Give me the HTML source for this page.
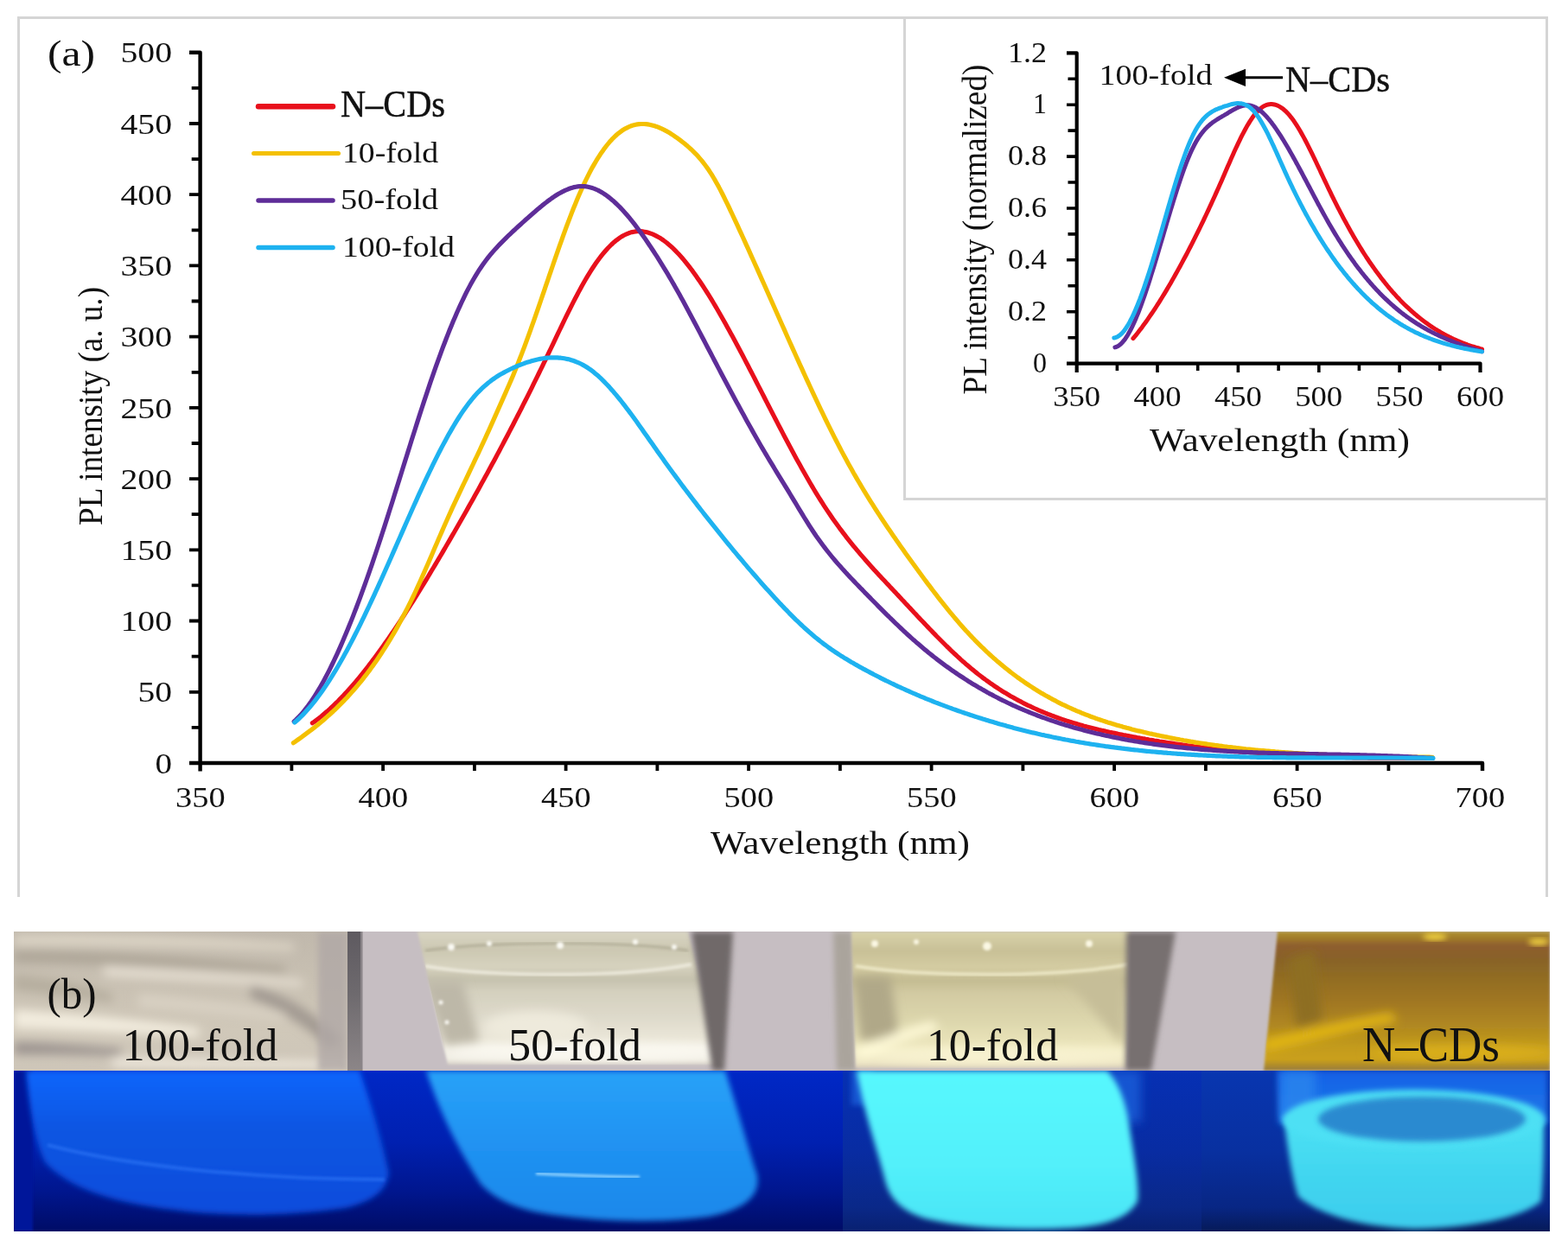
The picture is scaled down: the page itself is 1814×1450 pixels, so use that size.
<!DOCTYPE html><html><head><meta charset="utf-8"><title>PL spectra</title><style>
html,body{margin:0;padding:0;background:#fff;overflow:hidden}
svg{display:block}
text{font-family:"Liberation Serif","Times New Roman",serif;fill:#111}
</style></head><body>
<svg width="1814" height="1450" viewBox="0 0 1814 1450">
<rect width="1814" height="1450" fill="#fff"/>
<path d="M21.5 1038V20.5H1789.5V1038" fill="none" stroke="#d5d5d5" stroke-width="3"/>
<path d="M1046.5 20.5V577.5H1789.5" fill="none" stroke="#d5d5d5" stroke-width="3"/>
<path d="M219 60.8H231.6V892.5M219 883.0H1715V892" fill="none" stroke="#000" stroke-width="4.4" stroke-linejoin="round"/>
<path d="M219 800.8H231.6M219 718.5H231.6M219 636.3H231.6M219 554.1H231.6M219 471.9H231.6M219 389.6H231.6M219 307.4H231.6M219 225.2H231.6M219 143.0H231.6M221.7 841.9H231.6M221.7 759.7H231.6M221.7 677.4H231.6M221.7 595.2H231.6M221.7 513.0H231.6M221.7 430.8H231.6M221.7 348.5H231.6M221.7 266.3H231.6M221.7 184.1H231.6M221.7 101.9H231.6M337.4 883.0V892M443.1 883.0V892M548.9 883.0V892M654.6 883.0V892M760.4 883.0V892M866.1 883.0V892M971.9 883.0V892M1077.6 883.0V892M1183.4 883.0V892M1289.1 883.0V892M1394.9 883.0V892M1500.6 883.0V892M1606.4 883.0V892" fill="none" stroke="#000" stroke-width="3.8"/>
<path d="M1234 61.3H1245.7V431M1234 420.6H1712.5V431" fill="none" stroke="#000" stroke-width="4.2" stroke-linejoin="round"/>
<path d="M1235.5 390.7H1245.7M1234.0 360.7H1245.7M1235.5 330.8H1245.7M1234.0 300.8H1245.7M1235.5 270.9H1245.7M1234.0 241.0H1245.7M1235.5 211.0H1245.7M1234.0 181.1H1245.7M1235.5 151.1H1245.7M1234.0 121.2H1245.7M1235.5 91.3H1245.7M1292.4 420.6V429M1339.0 420.6V431M1385.7 420.6V429M1432.4 420.6V431M1479.1 420.6V429M1525.8 420.6V431M1572.4 420.6V429M1619.1 420.6V431M1665.8 420.6V429" fill="none" stroke="#000" stroke-width="3.6"/>
<g fill="none" stroke-width="5.2" stroke-linecap="round" stroke-linejoin="round">
<path stroke="#e8101c" d="M361.4 836.7L363.4 835.3L365.4 833.8L367.4 832.3L369.4 830.8L371.4 829.2L373.4 827.5L375.4 825.8L377.4 824.1L379.4 822.4L381.4 820.6L383.4 818.7L385.4 816.8L387.4 814.9L389.4 813.0L391.4 811.0L393.4 808.9L395.4 806.9L397.4 804.8L399.4 802.6L401.4 800.4L403.4 798.2L405.4 796.0L407.4 793.7L409.4 791.4L411.4 789.1L413.4 786.7L415.4 784.3L417.4 781.8L419.4 779.4L421.4 776.9L423.4 774.3L425.4 771.8L427.4 769.2L429.4 766.6L431.4 763.9L433.4 761.2L435.4 758.5L437.4 755.8L439.4 753.1L441.4 750.3L443.4 747.5L445.4 744.6L447.4 741.8L449.4 738.9L451.4 736.0L453.4 733.1L455.4 730.1L457.4 727.1L459.4 724.1L461.4 721.1L463.4 718.1L465.4 715.0L467.4 712.0L469.4 708.9L471.4 705.7L473.4 702.6L475.4 699.4L477.4 696.3L479.4 693.1L481.4 689.9L483.4 686.7L485.4 683.4L487.4 680.2L489.4 676.9L491.4 673.6L493.4 670.3L495.4 667.0L497.4 663.7L499.4 660.3L501.4 657.0L503.4 653.6L505.4 650.2L507.4 646.9L509.4 643.5L511.4 640.1L513.4 636.6L515.4 633.2L517.4 629.8L519.4 626.4L521.4 622.9L523.4 619.4L525.4 616.0L527.4 612.5L529.4 609.0L531.4 605.5L533.4 602.0L535.4 598.5L537.4 595.0L539.4 591.4L541.4 587.9L543.4 584.3L545.4 580.8L547.4 577.2L549.4 573.6L551.4 570.0L553.4 566.4L555.4 562.8L557.4 559.1L559.4 555.5L561.4 551.8L563.4 548.2L565.4 544.5L567.4 540.8L569.4 537.1L571.4 533.4L573.4 529.7L575.4 525.9L577.4 522.2L579.4 518.4L581.4 514.6L583.4 510.8L585.4 507.0L587.4 503.2L589.4 499.4L591.4 495.5L593.4 491.7L595.4 487.8L597.4 483.9L599.4 480.0L601.4 476.1L603.4 472.2L605.4 468.2L607.4 464.3L609.4 460.3L611.4 456.3L613.4 452.3L615.4 448.3L617.4 444.2L619.4 440.2L621.4 436.1L623.4 432.0L625.4 427.9L627.4 423.8L629.4 419.7L631.4 415.6L633.4 411.4L635.4 407.2L637.4 403.0L639.4 398.8L641.4 394.6L643.4 390.4L645.4 386.2L647.4 382.0L649.4 377.8L651.4 373.7L653.4 369.5L655.4 365.4L657.4 361.4L659.4 357.3L661.4 353.3L663.4 349.4L665.4 345.5L667.4 341.7L669.4 337.9L671.4 334.2L673.4 330.5L675.4 327.0L677.4 323.5L679.4 320.1L681.4 316.8L683.4 313.6L685.4 310.5L687.4 307.5L689.4 304.6L691.4 301.8L693.4 299.0L695.4 296.4L697.4 293.9L699.4 291.5L701.4 289.2L703.4 287.0L705.4 285.0L707.4 283.0L709.4 281.1L711.4 279.4L713.4 277.8L715.4 276.3L717.4 274.9L719.4 273.6L721.4 272.5L723.4 271.5L725.4 270.6L727.4 269.8L729.4 269.1L731.4 268.6L733.4 268.2L735.4 267.9L737.4 267.7L739.4 267.7L741.4 267.7L743.4 267.9L745.4 268.2L747.4 268.6L749.4 269.1L751.4 269.7L753.4 270.4L755.4 271.2L757.4 272.1L759.4 273.1L761.4 274.2L763.4 275.3L765.4 276.6L767.4 278.0L769.4 279.5L771.4 281.0L773.4 282.7L775.4 284.4L777.4 286.2L779.4 288.1L781.4 290.1L783.4 292.2L785.4 294.3L787.4 296.5L789.4 298.8L791.4 301.1L793.4 303.6L795.4 306.1L797.4 308.6L799.4 311.3L801.4 313.9L803.4 316.7L805.4 319.5L807.4 322.4L809.4 325.3L811.4 328.3L813.4 331.3L815.4 334.4L817.4 337.5L819.4 340.7L821.4 343.9L823.4 347.2L825.4 350.5L827.4 353.9L829.4 357.3L831.4 360.7L833.4 364.2L835.4 367.7L837.4 371.2L839.4 374.8L841.4 378.4L843.4 382.0L845.4 385.7L847.4 389.3L849.4 393.0L851.4 396.7L853.4 400.5L855.4 404.3L857.4 408.0L859.4 411.8L861.4 415.6L863.4 419.5L865.4 423.3L867.4 427.2L869.4 431.0L871.4 434.9L873.4 438.8L875.4 442.7L877.4 446.6L879.4 450.5L881.4 454.4L883.4 458.3L885.4 462.2L887.4 466.1L889.4 470.0L891.4 473.9L893.4 477.7L895.4 481.6L897.4 485.5L899.4 489.4L901.4 493.2L903.4 497.0L905.4 500.9L907.4 504.7L909.4 508.5L911.4 512.3L913.4 516.0L915.4 519.8L917.4 523.5L919.4 527.2L921.4 530.9L923.4 534.5L925.4 538.1L927.4 541.7L929.4 545.3L931.4 548.8L933.4 552.3L935.4 555.8L937.4 559.2L939.4 562.6L941.4 566.0L943.4 569.3L945.4 572.6L947.4 575.8L949.4 579.0L951.4 582.2L953.4 585.3L955.4 588.4L957.4 591.4L959.4 594.3L961.4 597.3L963.4 600.2L965.4 603.0L967.4 605.8L969.4 608.5L971.4 611.3L973.4 613.9L975.4 616.6L977.4 619.2L979.4 621.8L981.4 624.3L983.4 626.8L985.4 629.3L987.4 631.8L989.4 634.2L991.4 636.6L993.4 638.9L995.4 641.3L997.4 643.6L999.4 645.9L1001.4 648.2L1003.4 650.5L1005.4 652.7L1007.4 654.9L1009.4 657.2L1011.4 659.4L1013.4 661.6L1015.4 663.7L1017.4 665.9L1019.4 668.1L1021.4 670.2L1023.4 672.3L1025.4 674.5L1027.4 676.6L1029.4 678.8L1031.4 680.9L1033.4 683.0L1035.4 685.1L1037.4 687.3L1039.4 689.4L1041.4 691.5L1043.4 693.7L1045.4 695.8L1047.4 698.0L1049.4 700.1L1051.4 702.3L1053.4 704.4L1055.4 706.5L1057.4 708.7L1059.4 710.8L1061.4 713.0L1063.4 715.1L1065.4 717.2L1067.4 719.3L1069.4 721.4L1071.4 723.5L1073.4 725.6L1075.4 727.7L1077.4 729.8L1079.4 731.9L1081.4 733.9L1083.4 736.0L1085.4 738.0L1087.4 740.0L1089.4 742.0L1091.4 744.0L1093.4 746.0L1095.4 748.0L1097.4 749.9L1099.4 751.9L1101.4 753.8L1103.4 755.7L1105.4 757.5L1107.4 759.4L1109.4 761.2L1111.4 763.1L1113.4 764.9L1115.4 766.6L1117.4 768.4L1119.4 770.1L1121.4 771.8L1123.4 773.5L1125.4 775.1L1127.4 776.8L1129.4 778.4L1131.4 780.0L1133.4 781.5L1135.4 783.0L1137.4 784.6L1139.4 786.0L1141.4 787.5L1143.4 788.9L1145.4 790.4L1147.4 791.7L1149.4 793.1L1151.4 794.5L1153.4 795.8L1155.4 797.1L1157.4 798.4L1159.4 799.7L1161.4 800.9L1163.4 802.1L1165.4 803.3L1167.4 804.5L1169.4 805.7L1171.4 806.8L1173.4 807.9L1175.4 809.0L1177.4 810.1L1179.4 811.2L1181.4 812.2L1183.4 813.3L1185.4 814.3L1187.4 815.3L1189.4 816.3L1191.4 817.2L1193.4 818.2L1195.4 819.1L1197.4 820.0L1199.4 820.9L1201.4 821.8L1203.4 822.7L1205.4 823.5L1207.4 824.3L1209.4 825.2L1211.4 826.0L1213.4 826.8L1215.4 827.5L1217.4 828.3L1219.4 829.0L1221.4 829.8L1223.4 830.5L1225.4 831.2L1227.4 831.9L1229.4 832.6L1231.4 833.3L1233.4 833.9L1235.4 834.6L1237.4 835.2L1239.4 835.8L1241.4 836.4L1243.4 837.0L1245.4 837.6L1247.4 838.2L1249.4 838.8L1251.4 839.3L1253.4 839.9L1255.4 840.4L1257.4 841.0L1259.4 841.5L1261.4 842.0L1263.4 842.5L1265.4 843.0L1267.4 843.5L1269.4 844.0L1271.4 844.5L1273.4 844.9L1275.4 845.4L1277.4 845.8L1279.4 846.3L1281.4 846.7L1283.4 847.2L1285.4 847.6L1287.4 848.0L1289.4 848.4L1291.4 848.8L1293.4 849.3L1295.4 849.7L1297.4 850.1L1299.4 850.5L1301.4 850.8L1303.4 851.2L1305.4 851.6L1307.4 852.0L1309.4 852.4L1311.4 852.7L1313.4 853.1L1315.4 853.5L1317.4 853.8L1319.4 854.2L1321.4 854.6L1323.4 854.9L1325.4 855.3L1327.4 855.6L1329.4 856.0L1331.4 856.3L1333.4 856.6L1335.4 857.0L1337.4 857.3L1339.4 857.6L1341.4 858.0L1343.4 858.3L1345.4 858.6L1347.4 858.9L1349.4 859.2L1351.4 859.5L1353.4 859.8L1355.4 860.1L1357.4 860.4L1359.4 860.7L1361.4 861.0L1363.4 861.3L1365.4 861.6L1367.4 861.9L1369.4 862.2L1371.4 862.4L1373.4 862.7L1375.4 863.0L1377.4 863.2L1379.4 863.5L1381.4 863.8L1383.4 864.0L1385.4 864.3L1387.4 864.5L1389.4 864.8L1391.4 865.0L1393.4 865.3L1395.4 865.5L1397.4 865.8L1399.4 866.0L1401.4 866.2L1403.4 866.5L1405.4 866.7L1407.4 866.9L1409.4 867.1L1411.4 867.3L1413.4 867.6L1415.4 867.8L1417.4 868.0L1419.4 868.2L1421.4 868.4L1423.4 868.6L1425.4 868.8L1427.4 869.0L1429.4 869.2L1431.4 869.4L1433.4 869.6L1435.4 869.8L1437.4 869.9L1439.4 870.1L1441.4 870.3L1443.4 870.5L1445.4 870.6L1447.4 870.8L1449.4 871.0L1451.4 871.1L1453.4 871.3L1455.4 871.5L1457.4 871.6L1459.4 871.8L1461.4 871.9L1463.4 872.1L1465.4 872.2L1467.4 872.4L1469.4 872.5L1471.4 872.7L1473.4 872.8L1475.4 872.9L1477.4 873.1L1479.4 873.2L1481.4 873.3L1483.4 873.5L1485.4 873.6L1487.4 873.7L1489.4 873.8L1491.4 873.9L1493.4 874.1L1495.4 874.2L1497.4 874.3L1499.4 874.4L1501.4 874.5L1503.4 874.6L1505.4 874.7L1507.4 874.8L1509.4 874.9L1511.4 875.0L1513.4 875.1L1515.4 875.2L1517.4 875.3L1519.4 875.3L1521.4 875.4L1523.4 875.5L1525.4 875.6L1527.4 875.7L1529.4 875.7L1531.4 875.8L1533.4 875.9L1535.4 876.0L1537.4 876.0L1539.4 876.1L1541.4 876.2L1543.4 876.2L1545.4 876.3L1547.4 876.3L1549.4 876.4L1551.4 876.4L1553.4 876.5L1555.4 876.5L1557.4 876.6L1559.4 876.6L1561.4 876.7L1563.4 876.7L1565.4 876.8L1567.4 876.8L1569.4 876.8L1571.4 876.9L1573.4 876.9L1575.4 876.9L1577.4 877.0L1579.4 877.0L1581.4 877.0L1583.4 877.1L1585.4 877.1L1587.4 877.1L1589.4 877.1L1591.4 877.1L1593.4 877.2L1595.4 877.2L1597.4 877.2L1599.4 877.2L1601.4 877.2L1603.4 877.2L1605.4 877.2L1607.4 877.2L1609.4 877.2L1611.4 877.2L1613.4 877.2L1615.4 877.2L1617.4 877.2L1619.4 877.2L1621.4 877.2L1623.4 877.2L1625.4 877.2L1627.4 877.2L1629.4 877.2L1631.4 877.2L1633.4 877.2L1635.4 877.2L1637.4 877.1L1639.4 877.1L1641.4 877.1L1643.4 877.1L1645.4 877.1L1647.4 877.0L1649.4 877.0L1651.4 877.0L1653.4 877.0L1655.4 876.9L1657.0 876.9"/>
<path stroke="#f4c000" d="M339.4 859.7L341.4 858.3L343.4 856.9L345.4 855.5L347.4 854.1L349.4 852.7L351.4 851.2L353.4 849.7L355.4 848.2L357.4 846.7L359.4 845.2L361.4 843.6L363.4 842.1L365.4 840.5L367.4 838.9L369.4 837.2L371.4 835.6L373.4 833.9L375.4 832.2L377.4 830.4L379.4 828.6L381.4 826.9L383.4 825.0L385.4 823.2L387.4 821.3L389.4 819.4L391.4 817.4L393.4 815.4L395.4 813.4L397.4 811.4L399.4 809.3L401.4 807.2L403.4 805.0L405.4 802.8L407.4 800.6L409.4 798.3L411.4 796.0L413.4 793.6L415.4 791.2L417.4 788.8L419.4 786.3L421.4 783.7L423.4 781.2L425.4 778.5L427.4 775.9L429.4 773.1L431.4 770.4L433.4 767.6L435.4 764.7L437.4 761.8L439.4 758.8L441.4 755.8L443.4 752.7L445.4 749.6L447.4 746.4L449.4 743.1L451.4 739.9L453.4 736.5L455.4 733.1L457.4 729.6L459.4 726.1L461.4 722.5L463.4 718.8L465.4 715.1L467.4 711.3L469.4 707.5L471.4 703.6L473.4 699.6L475.4 695.6L477.4 691.5L479.4 687.3L481.4 683.0L483.4 678.7L485.4 674.3L487.4 669.9L489.4 665.4L491.4 660.9L493.4 656.3L495.4 651.7L497.4 647.1L499.4 642.4L501.4 637.8L503.4 633.1L505.4 628.5L507.4 623.8L509.4 619.2L511.4 614.6L513.4 610.0L515.4 605.5L517.4 601.0L519.4 596.5L521.4 592.1L523.4 587.7L525.4 583.4L527.4 579.1L529.4 574.8L531.4 570.6L533.4 566.4L535.4 562.2L537.4 558.0L539.4 553.8L541.4 549.6L543.4 545.4L545.4 541.2L547.4 537.0L549.4 532.7L551.4 528.5L553.4 524.3L555.4 520.0L557.4 515.7L559.4 511.4L561.4 507.1L563.4 502.7L565.4 498.3L567.4 493.9L569.4 489.4L571.4 484.9L573.4 480.4L575.4 475.9L577.4 471.4L579.4 466.9L581.4 462.4L583.4 457.9L585.4 453.4L587.4 448.8L589.4 444.2L591.4 439.6L593.4 434.9L595.4 430.0L597.4 425.1L599.4 420.1L601.4 415.0L603.4 409.9L605.4 404.6L607.4 399.3L609.4 393.8L611.4 388.4L613.4 382.8L615.4 377.2L617.4 371.6L619.4 365.9L621.4 360.1L623.4 354.3L625.4 348.5L627.4 342.7L629.4 336.8L631.4 330.9L633.4 325.1L635.4 319.2L637.4 313.3L639.4 307.5L641.4 301.7L643.4 295.9L645.4 290.1L647.4 284.4L649.4 278.8L651.4 273.2L653.4 267.7L655.4 262.2L657.4 256.9L659.4 251.6L661.4 246.4L663.4 241.3L665.4 236.4L667.4 231.5L669.4 226.8L671.4 222.2L673.4 217.7L675.4 213.4L677.4 209.1L679.4 205.1L681.4 201.1L683.4 197.3L685.4 193.6L687.4 190.1L689.4 186.7L691.4 183.4L693.4 180.3L695.4 177.2L697.4 174.4L699.4 171.6L701.4 169.0L703.4 166.5L705.4 164.1L707.4 161.9L709.4 159.8L711.4 157.9L713.4 156.0L715.4 154.3L717.4 152.8L719.4 151.3L721.4 150.0L723.4 148.8L725.4 147.8L727.4 146.9L729.4 146.0L731.4 145.3L733.4 144.8L735.4 144.3L737.4 143.9L739.4 143.7L741.4 143.5L743.4 143.5L745.4 143.5L747.4 143.7L749.4 143.9L751.4 144.3L753.4 144.7L755.4 145.2L757.4 145.8L759.4 146.4L761.4 147.2L763.4 148.0L765.4 148.9L767.4 149.8L769.4 150.9L771.4 151.9L773.4 153.1L775.4 154.3L777.4 155.6L779.4 156.9L781.4 158.3L783.4 159.7L785.4 161.1L787.4 162.6L789.4 164.2L791.4 165.8L793.4 167.4L795.4 169.1L797.4 170.9L799.4 172.7L801.4 174.6L803.4 176.6L805.4 178.6L807.4 180.8L809.4 183.1L811.4 185.4L813.4 187.9L815.4 190.5L817.4 193.2L819.4 196.1L821.4 199.1L823.4 202.2L825.4 205.5L827.4 208.9L829.4 212.5L831.4 216.1L833.4 219.9L835.4 223.8L837.4 227.7L839.4 231.8L841.4 235.9L843.4 240.0L845.4 244.3L847.4 248.5L849.4 252.8L851.4 257.1L853.4 261.4L855.4 265.8L857.4 270.1L859.4 274.5L861.4 278.9L863.4 283.3L865.4 287.7L867.4 292.1L869.4 296.6L871.4 301.0L873.4 305.5L875.4 309.9L877.4 314.4L879.4 318.9L881.4 323.3L883.4 327.8L885.4 332.3L887.4 336.8L889.4 341.3L891.4 345.8L893.4 350.3L895.4 354.8L897.4 359.3L899.4 363.8L901.4 368.3L903.4 372.8L905.4 377.3L907.4 381.7L909.4 386.2L911.4 390.7L913.4 395.2L915.4 399.6L917.4 404.1L919.4 408.5L921.4 413.0L923.4 417.4L925.4 421.8L927.4 426.2L929.4 430.6L931.4 435.0L933.4 439.4L935.4 443.7L937.4 448.0L939.4 452.3L941.4 456.6L943.4 460.9L945.4 465.1L947.4 469.4L949.4 473.6L951.4 477.7L953.4 481.9L955.4 486.0L957.4 490.1L959.4 494.1L961.4 498.2L963.4 502.2L965.4 506.1L967.4 510.0L969.4 513.9L971.4 517.8L973.4 521.6L975.4 525.4L977.4 529.1L979.4 532.8L981.4 536.4L983.4 540.0L985.4 543.6L987.4 547.2L989.4 550.6L991.4 554.1L993.4 557.5L995.4 560.9L997.4 564.3L999.4 567.6L1001.4 570.9L1003.4 574.1L1005.4 577.4L1007.4 580.6L1009.4 583.7L1011.4 586.9L1013.4 590.0L1015.4 593.1L1017.4 596.2L1019.4 599.2L1021.4 602.2L1023.4 605.2L1025.4 608.2L1027.4 611.2L1029.4 614.1L1031.4 617.0L1033.4 619.9L1035.4 622.8L1037.4 625.7L1039.4 628.6L1041.4 631.4L1043.4 634.2L1045.4 637.1L1047.4 639.9L1049.4 642.7L1051.4 645.5L1053.4 648.3L1055.4 651.0L1057.4 653.8L1059.4 656.6L1061.4 659.3L1063.4 662.1L1065.4 664.8L1067.4 667.5L1069.4 670.2L1071.4 672.9L1073.4 675.6L1075.4 678.2L1077.4 680.9L1079.4 683.5L1081.4 686.1L1083.4 688.7L1085.4 691.3L1087.4 693.9L1089.4 696.4L1091.4 698.9L1093.4 701.4L1095.4 703.9L1097.4 706.4L1099.4 708.8L1101.4 711.2L1103.4 713.6L1105.4 716.0L1107.4 718.3L1109.4 720.7L1111.4 722.9L1113.4 725.2L1115.4 727.4L1117.4 729.7L1119.4 731.8L1121.4 734.0L1123.4 736.1L1125.4 738.2L1127.4 740.3L1129.4 742.3L1131.4 744.3L1133.4 746.3L1135.4 748.3L1137.4 750.2L1139.4 752.2L1141.4 754.1L1143.4 755.9L1145.4 757.8L1147.4 759.6L1149.4 761.4L1151.4 763.1L1153.4 764.9L1155.4 766.6L1157.4 768.3L1159.4 769.9L1161.4 771.6L1163.4 773.2L1165.4 774.8L1167.4 776.4L1169.4 778.0L1171.4 779.5L1173.4 781.0L1175.4 782.5L1177.4 784.0L1179.4 785.4L1181.4 786.8L1183.4 788.2L1185.4 789.6L1187.4 791.0L1189.4 792.3L1191.4 793.6L1193.4 794.9L1195.4 796.2L1197.4 797.5L1199.4 798.7L1201.4 800.0L1203.4 801.2L1205.4 802.4L1207.4 803.5L1209.4 804.7L1211.4 805.8L1213.4 806.9L1215.4 808.0L1217.4 809.1L1219.4 810.2L1221.4 811.2L1223.4 812.3L1225.4 813.3L1227.4 814.3L1229.4 815.3L1231.4 816.2L1233.4 817.2L1235.4 818.1L1237.4 819.0L1239.4 819.9L1241.4 820.8L1243.4 821.7L1245.4 822.6L1247.4 823.4L1249.4 824.2L1251.4 825.1L1253.4 825.9L1255.4 826.7L1257.4 827.4L1259.4 828.2L1261.4 829.0L1263.4 829.7L1265.4 830.4L1267.4 831.2L1269.4 831.9L1271.4 832.6L1273.4 833.2L1275.4 833.9L1277.4 834.6L1279.4 835.2L1281.4 835.9L1283.4 836.5L1285.4 837.1L1287.4 837.7L1289.4 838.3L1291.4 838.9L1293.4 839.5L1295.4 840.1L1297.4 840.6L1299.4 841.2L1301.4 841.7L1303.4 842.3L1305.4 842.8L1307.4 843.3L1309.4 843.9L1311.4 844.4L1313.4 844.9L1315.4 845.4L1317.4 845.9L1319.4 846.3L1321.4 846.8L1323.4 847.3L1325.4 847.7L1327.4 848.2L1329.4 848.7L1331.4 849.1L1333.4 849.6L1335.4 850.0L1337.4 850.4L1339.4 850.9L1341.4 851.3L1343.4 851.7L1345.4 852.1L1347.4 852.5L1349.4 852.9L1351.4 853.3L1353.4 853.7L1355.4 854.1L1357.4 854.5L1359.4 854.9L1361.4 855.2L1363.4 855.6L1365.4 856.0L1367.4 856.3L1369.4 856.7L1371.4 857.0L1373.4 857.4L1375.4 857.7L1377.4 858.1L1379.4 858.4L1381.4 858.7L1383.4 859.1L1385.4 859.4L1387.4 859.7L1389.4 860.0L1391.4 860.3L1393.4 860.6L1395.4 860.9L1397.4 861.2L1399.4 861.5L1401.4 861.8L1403.4 862.1L1405.4 862.4L1407.4 862.6L1409.4 862.9L1411.4 863.2L1413.4 863.4L1415.4 863.7L1417.4 864.0L1419.4 864.2L1421.4 864.5L1423.4 864.7L1425.4 864.9L1427.4 865.2L1429.4 865.4L1431.4 865.7L1433.4 865.9L1435.4 866.1L1437.4 866.3L1439.4 866.5L1441.4 866.8L1443.4 867.0L1445.4 867.2L1447.4 867.4L1449.4 867.6L1451.4 867.8L1453.4 868.0L1455.4 868.2L1457.4 868.3L1459.4 868.5L1461.4 868.7L1463.4 868.9L1465.4 869.1L1467.4 869.2L1469.4 869.4L1471.4 869.6L1473.4 869.7L1475.4 869.9L1477.4 870.0L1479.4 870.2L1481.4 870.3L1483.4 870.5L1485.4 870.6L1487.4 870.8L1489.4 870.9L1491.4 871.1L1493.4 871.2L1495.4 871.3L1497.4 871.5L1499.4 871.6L1501.4 871.7L1503.4 871.8L1505.4 872.0L1507.4 872.1L1509.4 872.2L1511.4 872.3L1513.4 872.4L1515.4 872.5L1517.4 872.6L1519.4 872.7L1521.4 872.8L1523.4 872.9L1525.4 873.0L1527.4 873.1L1529.4 873.2L1531.4 873.3L1533.4 873.4L1535.4 873.5L1537.4 873.6L1539.4 873.7L1541.4 873.7L1543.4 873.8L1545.4 873.9L1547.4 874.0L1549.4 874.0L1551.4 874.1L1553.4 874.2L1555.4 874.3L1557.4 874.3L1559.4 874.4L1561.4 874.4L1563.4 874.5L1565.4 874.6L1567.4 874.6L1569.4 874.7L1571.4 874.7L1573.4 874.8L1575.4 874.9L1577.4 874.9L1579.4 875.0L1581.4 875.0L1583.4 875.1L1585.4 875.1L1587.4 875.2L1589.4 875.2L1591.4 875.2L1593.4 875.3L1595.4 875.3L1597.4 875.4L1599.4 875.4L1601.4 875.5L1603.4 875.5L1605.4 875.5L1607.4 875.6L1609.4 875.6L1611.4 875.6L1613.4 875.7L1615.4 875.7L1617.4 875.7L1619.4 875.8L1621.4 875.8L1623.4 875.8L1625.4 875.9L1627.4 875.9L1629.4 875.9L1631.4 875.9L1633.4 876.0L1635.4 876.0L1637.4 876.0L1639.4 876.1L1641.4 876.1L1643.4 876.1L1645.4 876.1L1647.4 876.2L1649.4 876.2L1651.4 876.2L1653.4 876.2L1655.4 876.3L1657.0 876.3"/>
<path stroke="#5e2d98" d="M340.2 834.9L342.2 833.1L344.2 831.1L346.2 829.1L348.2 826.9L350.2 824.6L352.2 822.2L354.2 819.6L356.2 817.0L358.2 814.2L360.2 811.4L362.2 808.4L364.2 805.3L366.2 802.2L368.2 798.9L370.2 795.5L372.2 792.0L374.2 788.4L376.2 784.7L378.2 780.9L380.2 777.1L382.2 773.1L384.2 769.0L386.2 764.9L388.2 760.6L390.2 756.3L392.2 751.9L394.2 747.4L396.2 742.8L398.2 738.1L400.2 733.3L402.2 728.5L404.2 723.6L406.2 718.6L408.2 713.6L410.2 708.4L412.2 703.2L414.2 697.9L416.2 692.6L418.2 687.1L420.2 681.7L422.2 676.1L424.2 670.5L426.2 664.8L428.2 659.1L430.2 653.3L432.2 647.4L434.2 641.5L436.2 635.5L438.2 629.5L440.2 623.4L442.2 617.3L444.2 611.1L446.2 604.9L448.2 598.6L450.2 592.3L452.2 586.0L454.2 579.7L456.2 573.3L458.2 566.9L460.2 560.5L462.2 554.1L464.2 547.7L466.2 541.3L468.2 534.9L470.2 528.5L472.2 522.1L474.2 515.7L476.2 509.3L478.2 503.0L480.2 496.7L482.2 490.4L484.2 484.1L486.2 477.9L488.2 471.8L490.2 465.6L492.2 459.6L494.2 453.6L496.2 447.6L498.2 441.7L500.2 435.9L502.2 430.1L504.2 424.4L506.2 418.8L508.2 413.3L510.2 407.8L512.2 402.4L514.2 397.2L516.2 392.0L518.2 386.9L520.2 381.8L522.2 376.9L524.2 372.1L526.2 367.4L528.2 362.7L530.2 358.2L532.2 353.8L534.2 349.5L536.2 345.3L538.2 341.2L540.2 337.2L542.2 333.4L544.2 329.6L546.2 326.0L548.2 322.5L550.2 319.1L552.2 315.8L554.2 312.7L556.2 309.7L558.2 306.8L560.2 304.0L562.2 301.3L564.2 298.7L566.2 296.2L568.2 293.7L570.2 291.4L572.2 289.1L574.2 286.9L576.2 284.7L578.2 282.6L580.2 280.6L582.2 278.6L584.2 276.6L586.2 274.6L588.2 272.7L590.2 270.8L592.2 268.9L594.2 267.0L596.2 265.2L598.2 263.3L600.2 261.5L602.2 259.7L604.2 257.9L606.2 256.1L608.2 254.3L610.2 252.6L612.2 250.8L614.2 249.0L616.2 247.3L618.2 245.6L620.2 243.8L622.2 242.1L624.2 240.4L626.2 238.8L628.2 237.1L630.2 235.5L632.2 234.0L634.2 232.4L636.2 231.0L638.2 229.5L640.2 228.1L642.2 226.8L644.2 225.5L646.2 224.3L648.2 223.2L650.2 222.1L652.2 221.1L654.2 220.1L656.2 219.3L658.2 218.5L660.2 217.8L662.2 217.2L664.2 216.6L666.2 216.2L668.2 215.9L670.2 215.7L672.2 215.6L674.2 215.6L676.2 215.7L678.2 215.9L680.2 216.2L682.2 216.7L684.2 217.2L686.2 217.9L688.2 218.6L690.2 219.5L692.2 220.4L694.2 221.5L696.2 222.6L698.2 223.9L700.2 225.2L702.2 226.6L704.2 228.1L706.2 229.7L708.2 231.4L710.2 233.1L712.2 235.0L714.2 236.9L716.2 238.8L718.2 240.9L720.2 243.0L722.2 245.2L724.2 247.5L726.2 249.8L728.2 252.2L730.2 254.6L732.2 257.1L734.2 259.7L736.2 262.3L738.2 265.0L740.2 267.7L742.2 270.4L744.2 273.3L746.2 276.1L748.2 279.0L750.2 282.0L752.2 284.9L754.2 288.0L756.2 291.0L758.2 294.1L760.2 297.2L762.2 300.4L764.2 303.6L766.2 306.8L768.2 310.1L770.2 313.4L772.2 316.7L774.2 320.1L776.2 323.5L778.2 327.0L780.2 330.4L782.2 334.0L784.2 337.5L786.2 341.1L788.2 344.7L790.2 348.3L792.2 352.0L794.2 355.7L796.2 359.4L798.2 363.2L800.2 366.9L802.2 370.7L804.2 374.5L806.2 378.3L808.2 382.1L810.2 385.9L812.2 389.7L814.2 393.5L816.2 397.4L818.2 401.2L820.2 405.0L822.2 408.8L824.2 412.6L826.2 416.5L828.2 420.3L830.2 424.1L832.2 427.9L834.2 431.7L836.2 435.5L838.2 439.2L840.2 443.0L842.2 446.8L844.2 450.5L846.2 454.3L848.2 458.0L850.2 461.7L852.2 465.4L854.2 469.1L856.2 472.8L858.2 476.5L860.2 480.1L862.2 483.8L864.2 487.4L866.2 491.0L868.2 494.6L870.2 498.1L872.2 501.7L874.2 505.2L876.2 508.7L878.2 512.2L880.2 515.7L882.2 519.1L884.2 522.5L886.2 525.9L888.2 529.3L890.2 532.6L892.2 535.9L894.2 539.2L896.2 542.5L898.2 545.8L900.2 549.1L902.2 552.3L904.2 555.6L906.2 558.8L908.2 562.1L910.2 565.4L912.2 568.7L914.2 572.0L916.2 575.3L918.2 578.6L920.2 581.9L922.2 585.3L924.2 588.6L926.2 591.9L928.2 595.2L930.2 598.5L932.2 601.7L934.2 604.9L936.2 608.1L938.2 611.2L940.2 614.2L942.2 617.2L944.2 620.2L946.2 623.0L948.2 625.8L950.2 628.6L952.2 631.3L954.2 633.9L956.2 636.5L958.2 639.0L960.2 641.5L962.2 644.0L964.2 646.4L966.2 648.7L968.2 651.1L970.2 653.4L972.2 655.6L974.2 657.9L976.2 660.1L978.2 662.3L980.2 664.4L982.2 666.6L984.2 668.7L986.2 670.8L988.2 672.9L990.2 675.0L992.2 677.0L994.2 679.1L996.2 681.2L998.2 683.2L1000.2 685.3L1002.2 687.3L1004.2 689.4L1006.2 691.4L1008.2 693.5L1010.2 695.5L1012.2 697.5L1014.2 699.5L1016.2 701.6L1018.2 703.6L1020.2 705.6L1022.2 707.6L1024.2 709.6L1026.2 711.6L1028.2 713.5L1030.2 715.5L1032.2 717.4L1034.2 719.4L1036.2 721.3L1038.2 723.2L1040.2 725.1L1042.2 727.0L1044.2 728.9L1046.2 730.8L1048.2 732.6L1050.2 734.5L1052.2 736.3L1054.2 738.1L1056.2 739.9L1058.2 741.6L1060.2 743.4L1062.2 745.1L1064.2 746.8L1066.2 748.5L1068.2 750.2L1070.2 751.9L1072.2 753.5L1074.2 755.2L1076.2 756.8L1078.2 758.4L1080.2 760.0L1082.2 761.5L1084.2 763.1L1086.2 764.6L1088.2 766.1L1090.2 767.6L1092.2 769.1L1094.2 770.6L1096.2 772.0L1098.2 773.4L1100.2 774.9L1102.2 776.3L1104.2 777.6L1106.2 779.0L1108.2 780.4L1110.2 781.7L1112.2 783.0L1114.2 784.3L1116.2 785.6L1118.2 786.9L1120.2 788.2L1122.2 789.4L1124.2 790.7L1126.2 791.9L1128.2 793.1L1130.2 794.3L1132.2 795.5L1134.2 796.6L1136.2 797.8L1138.2 798.9L1140.2 800.0L1142.2 801.2L1144.2 802.3L1146.2 803.3L1148.2 804.4L1150.2 805.5L1152.2 806.5L1154.2 807.5L1156.2 808.6L1158.2 809.6L1160.2 810.6L1162.2 811.5L1164.2 812.5L1166.2 813.5L1168.2 814.4L1170.2 815.3L1172.2 816.3L1174.2 817.2L1176.2 818.1L1178.2 819.0L1180.2 819.8L1182.2 820.7L1184.2 821.5L1186.2 822.4L1188.2 823.2L1190.2 824.0L1192.2 824.8L1194.2 825.6L1196.2 826.4L1198.2 827.2L1200.2 828.0L1202.2 828.7L1204.2 829.5L1206.2 830.2L1208.2 830.9L1210.2 831.6L1212.2 832.4L1214.2 833.1L1216.2 833.7L1218.2 834.4L1220.2 835.1L1222.2 835.7L1224.2 836.4L1226.2 837.0L1228.2 837.7L1230.2 838.3L1232.2 838.9L1234.2 839.5L1236.2 840.1L1238.2 840.7L1240.2 841.3L1242.2 841.9L1244.2 842.4L1246.2 843.0L1248.2 843.5L1250.2 844.1L1252.2 844.6L1254.2 845.2L1256.2 845.7L1258.2 846.2L1260.2 846.7L1262.2 847.2L1264.2 847.7L1266.2 848.2L1268.2 848.7L1270.2 849.1L1272.2 849.6L1274.2 850.1L1276.2 850.5L1278.2 851.0L1280.2 851.4L1282.2 851.8L1284.2 852.3L1286.2 852.7L1288.2 853.1L1290.2 853.5L1292.2 853.9L1294.2 854.3L1296.2 854.7L1298.2 855.1L1300.2 855.5L1302.2 855.9L1304.2 856.2L1306.2 856.6L1308.2 856.9L1310.2 857.3L1312.2 857.6L1314.2 858.0L1316.2 858.3L1318.2 858.6L1320.2 859.0L1322.2 859.3L1324.2 859.6L1326.2 859.9L1328.2 860.2L1330.2 860.5L1332.2 860.8L1334.2 861.1L1336.2 861.4L1338.2 861.6L1340.2 861.9L1342.2 862.2L1344.2 862.4L1346.2 862.7L1348.2 862.9L1350.2 863.2L1352.2 863.4L1354.2 863.7L1356.2 863.9L1358.2 864.1L1360.2 864.4L1362.2 864.6L1364.2 864.8L1366.2 865.0L1368.2 865.2L1370.2 865.4L1372.2 865.6L1374.2 865.8L1376.2 866.0L1378.2 866.2L1380.2 866.4L1382.2 866.6L1384.2 866.7L1386.2 866.9L1388.2 867.1L1390.2 867.3L1392.2 867.4L1394.2 867.6L1396.2 867.7L1398.2 867.9L1400.2 868.0L1402.2 868.2L1404.2 868.3L1406.2 868.4L1408.2 868.6L1410.2 868.7L1412.2 868.8L1414.2 869.0L1416.2 869.1L1418.2 869.2L1420.2 869.3L1422.2 869.4L1424.2 869.6L1426.2 869.7L1428.2 869.8L1430.2 869.9L1432.2 870.0L1434.2 870.1L1436.2 870.2L1438.2 870.3L1440.2 870.4L1442.2 870.4L1444.2 870.5L1446.2 870.6L1448.2 870.7L1450.2 870.8L1452.2 870.9L1454.2 870.9L1456.2 871.0L1458.2 871.1L1460.2 871.1L1462.2 871.2L1464.2 871.3L1466.2 871.3L1468.2 871.4L1470.2 871.5L1472.2 871.5L1474.2 871.6L1476.2 871.7L1478.2 871.7L1480.2 871.8L1482.2 871.8L1484.2 871.9L1486.2 871.9L1488.2 872.0L1490.2 872.0L1492.2 872.1L1494.2 872.1L1496.2 872.2L1498.2 872.2L1500.2 872.2L1502.2 872.3L1504.2 872.3L1506.2 872.4L1508.2 872.4L1510.2 872.5L1512.2 872.5L1514.2 872.5L1516.2 872.6L1518.2 872.6L1520.2 872.7L1522.2 872.7L1524.2 872.7L1526.2 872.8L1528.2 872.8L1530.2 872.8L1532.2 872.9L1534.2 872.9L1536.2 873.0L1538.2 873.0L1540.2 873.0L1542.2 873.1L1544.2 873.1L1546.2 873.2L1548.2 873.2L1550.2 873.2L1552.2 873.3L1554.2 873.3L1556.2 873.4L1558.2 873.4L1560.2 873.4L1562.2 873.5L1564.2 873.5L1566.2 873.6L1568.2 873.6L1570.2 873.7L1572.2 873.7L1574.2 873.8L1576.2 873.8L1578.2 873.9L1580.2 873.9L1582.2 874.0L1584.2 874.0L1586.2 874.1L1588.2 874.2L1590.2 874.2L1592.2 874.3L1594.2 874.3L1596.2 874.4L1598.2 874.5L1600.2 874.5L1602.2 874.6L1604.2 874.7L1606.2 874.8L1608.2 874.8L1610.2 874.9L1612.2 875.0L1614.2 875.1L1616.2 875.2L1618.2 875.2L1620.2 875.3L1622.2 875.4L1624.2 875.5L1626.2 875.6L1628.2 875.7L1630.2 875.8L1632.2 875.9L1634.2 876.0L1636.2 876.1L1638.2 876.2L1640.2 876.4L1642.2 876.5L1644.2 876.6L1646.2 876.7L1648.2 876.8L1650.2 877.0L1652.2 877.1L1654.2 877.2L1656.2 877.4L1657.0 877.4"/>
<path stroke="#1eb2f0" d="M340.9 836.0L342.9 834.3L344.9 832.5L346.9 830.6L348.9 828.7L350.9 826.6L352.9 824.5L354.9 822.3L356.9 820.1L358.9 817.8L360.9 815.4L362.9 812.9L364.9 810.3L366.9 807.7L368.9 805.0L370.9 802.3L372.9 799.5L374.9 796.6L376.9 793.6L378.9 790.6L380.9 787.5L382.9 784.4L384.9 781.2L386.9 777.9L388.9 774.6L390.9 771.2L392.9 767.7L394.9 764.2L396.9 760.7L398.9 757.1L400.9 753.4L402.9 749.7L404.9 745.9L406.9 742.1L408.9 738.2L410.9 734.3L412.9 730.3L414.9 726.3L416.9 722.3L418.9 718.2L420.9 714.1L422.9 709.9L424.9 705.7L426.9 701.5L428.9 697.2L430.9 692.9L432.9 688.6L434.9 684.2L436.9 679.8L438.9 675.4L440.9 671.0L442.9 666.5L444.9 662.0L446.9 657.5L448.9 653.0L450.9 648.5L452.9 644.0L454.9 639.4L456.9 634.9L458.9 630.3L460.9 625.7L462.9 621.2L464.9 616.6L466.9 612.1L468.9 607.5L470.9 603.0L472.9 598.5L474.9 594.0L476.9 589.5L478.9 585.0L480.9 580.6L482.9 576.1L484.9 571.7L486.9 567.4L488.9 563.0L490.9 558.7L492.9 554.4L494.9 550.2L496.9 546.0L498.9 541.8L500.9 537.7L502.9 533.7L504.9 529.7L506.9 525.7L508.9 521.8L510.9 517.9L512.9 514.1L514.9 510.4L516.9 506.7L518.9 503.1L520.9 499.6L522.9 496.1L524.9 492.7L526.9 489.4L528.9 486.2L530.9 483.0L532.9 479.9L534.9 476.9L536.9 474.0L538.9 471.2L540.9 468.5L542.9 465.8L544.9 463.3L546.9 460.9L548.9 458.5L550.9 456.3L552.9 454.1L554.9 452.1L556.9 450.1L558.9 448.2L560.9 446.4L562.9 444.7L564.9 443.0L566.9 441.5L568.9 439.9L570.9 438.5L572.9 437.1L574.9 435.8L576.9 434.5L578.9 433.3L580.9 432.2L582.9 431.1L584.9 430.0L586.9 429.0L588.9 428.0L590.9 427.0L592.9 426.1L594.9 425.2L596.9 424.3L598.9 423.4L600.9 422.6L602.9 421.8L604.9 421.1L606.9 420.3L608.9 419.6L610.9 419.0L612.9 418.4L614.9 417.8L616.9 417.2L618.9 416.7L620.9 416.2L622.9 415.8L624.9 415.4L626.9 415.0L628.9 414.7L630.9 414.4L632.9 414.2L634.9 414.0L636.9 413.9L638.9 413.8L640.9 413.8L642.9 413.8L644.9 413.9L646.9 414.1L648.9 414.2L650.9 414.5L652.9 414.8L654.9 415.2L656.9 415.6L658.9 416.1L660.9 416.7L662.9 417.3L664.9 418.0L666.9 418.8L668.9 419.6L670.9 420.5L672.9 421.5L674.9 422.6L676.9 423.7L678.9 425.0L680.9 426.3L682.9 427.7L684.9 429.2L686.9 430.7L688.9 432.4L690.9 434.1L692.9 435.8L694.9 437.7L696.9 439.6L698.9 441.6L700.9 443.7L702.9 445.8L704.9 447.9L706.9 450.2L708.9 452.4L710.9 454.8L712.9 457.1L714.9 459.6L716.9 462.0L718.9 464.5L720.9 467.1L722.9 469.7L724.9 472.3L726.9 474.9L728.9 477.6L730.9 480.3L732.9 483.1L734.9 485.8L736.9 488.6L738.9 491.4L740.9 494.2L742.9 497.0L744.9 499.9L746.9 502.7L748.9 505.6L750.9 508.4L752.9 511.3L754.9 514.1L756.9 517.0L758.9 519.8L760.9 522.7L762.9 525.5L764.9 528.3L766.9 531.1L768.9 533.9L770.9 536.7L772.9 539.5L774.9 542.2L776.9 545.0L778.9 547.7L780.9 550.4L782.9 553.1L784.9 555.8L786.9 558.5L788.9 561.2L790.9 563.9L792.9 566.5L794.9 569.1L796.9 571.8L798.9 574.4L800.9 577.0L802.9 579.6L804.9 582.2L806.9 584.8L808.9 587.4L810.9 590.0L812.9 592.5L814.9 595.1L816.9 597.6L818.9 600.2L820.9 602.7L822.9 605.2L824.9 607.7L826.9 610.2L828.9 612.7L830.9 615.2L832.9 617.7L834.9 620.2L836.9 622.6L838.9 625.1L840.9 627.6L842.9 630.0L844.9 632.4L846.9 634.8L848.9 637.3L850.9 639.7L852.9 642.1L854.9 644.5L856.9 646.8L858.9 649.2L860.9 651.6L862.9 653.9L864.9 656.3L866.9 658.6L868.9 660.9L870.9 663.2L872.9 665.5L874.9 667.8L876.9 670.1L878.9 672.4L880.9 674.7L882.9 676.9L884.9 679.2L886.9 681.4L888.9 683.6L890.9 685.8L892.9 688.0L894.9 690.2L896.9 692.4L898.9 694.6L900.9 696.7L902.9 698.9L904.9 701.0L906.9 703.1L908.9 705.2L910.9 707.2L912.9 709.3L914.9 711.3L916.9 713.3L918.9 715.3L920.9 717.3L922.9 719.2L924.9 721.1L926.9 723.0L928.9 724.9L930.9 726.7L932.9 728.5L934.9 730.3L936.9 732.1L938.9 733.8L940.9 735.5L942.9 737.2L944.9 738.8L946.9 740.4L948.9 742.0L950.9 743.5L952.9 745.1L954.9 746.5L956.9 748.0L958.9 749.5L960.9 750.9L962.9 752.3L964.9 753.6L966.9 755.0L968.9 756.3L970.9 757.6L972.9 758.9L974.9 760.1L976.9 761.4L978.9 762.6L980.9 763.8L982.9 765.0L984.9 766.2L986.9 767.3L988.9 768.5L990.9 769.6L992.9 770.7L994.9 771.9L996.9 773.0L998.9 774.1L1000.9 775.1L1002.9 776.2L1004.9 777.3L1006.9 778.4L1008.9 779.4L1010.9 780.5L1012.9 781.5L1014.9 782.5L1016.9 783.5L1018.9 784.6L1020.9 785.6L1022.9 786.6L1024.9 787.6L1026.9 788.5L1028.9 789.5L1030.9 790.5L1032.9 791.4L1034.9 792.4L1036.9 793.3L1038.9 794.3L1040.9 795.2L1042.9 796.1L1044.9 797.0L1046.9 797.9L1048.9 798.8L1050.9 799.7L1052.9 800.6L1054.9 801.5L1056.9 802.4L1058.9 803.2L1060.9 804.1L1062.9 804.9L1064.9 805.8L1066.9 806.6L1068.9 807.4L1070.9 808.3L1072.9 809.1L1074.9 809.9L1076.9 810.7L1078.9 811.5L1080.9 812.3L1082.9 813.1L1084.9 813.8L1086.9 814.6L1088.9 815.4L1090.9 816.1L1092.9 816.9L1094.9 817.6L1096.9 818.4L1098.9 819.1L1100.9 819.8L1102.9 820.6L1104.9 821.3L1106.9 822.0L1108.9 822.7L1110.9 823.4L1112.9 824.1L1114.9 824.8L1116.9 825.5L1118.9 826.1L1120.9 826.8L1122.9 827.5L1124.9 828.1L1126.9 828.8L1128.9 829.4L1130.9 830.1L1132.9 830.7L1134.9 831.3L1136.9 832.0L1138.9 832.6L1140.9 833.2L1142.9 833.8L1144.9 834.4L1146.9 835.0L1148.9 835.6L1150.9 836.2L1152.9 836.8L1154.9 837.4L1156.9 838.0L1158.9 838.5L1160.9 839.1L1162.9 839.6L1164.9 840.2L1166.9 840.7L1168.9 841.3L1170.9 841.8L1172.9 842.4L1174.9 842.9L1176.9 843.4L1178.9 843.9L1180.9 844.4L1182.9 844.9L1184.9 845.4L1186.9 845.9L1188.9 846.4L1190.9 846.9L1192.9 847.4L1194.9 847.9L1196.9 848.3L1198.9 848.8L1200.9 849.3L1202.9 849.7L1204.9 850.2L1206.9 850.6L1208.9 851.1L1210.9 851.5L1212.9 851.9L1214.9 852.3L1216.9 852.8L1218.9 853.2L1220.9 853.6L1222.9 854.0L1224.9 854.4L1226.9 854.8L1228.9 855.2L1230.9 855.6L1232.9 856.0L1234.9 856.3L1236.9 856.7L1238.9 857.1L1240.9 857.4L1242.9 857.8L1244.9 858.2L1246.9 858.5L1248.9 858.9L1250.9 859.2L1252.9 859.5L1254.9 859.9L1256.9 860.2L1258.9 860.5L1260.9 860.9L1262.9 861.2L1264.9 861.5L1266.9 861.8L1268.9 862.1L1270.9 862.4L1272.9 862.7L1274.9 863.0L1276.9 863.3L1278.9 863.6L1280.9 863.8L1282.9 864.1L1284.9 864.4L1286.9 864.7L1288.9 864.9L1290.9 865.2L1292.9 865.4L1294.9 865.7L1296.9 865.9L1298.9 866.2L1300.9 866.4L1302.9 866.7L1304.9 866.9L1306.9 867.1L1308.9 867.4L1310.9 867.6L1312.9 867.8L1314.9 868.0L1316.9 868.2L1318.9 868.5L1320.9 868.7L1322.9 868.9L1324.9 869.1L1326.9 869.3L1328.9 869.5L1330.9 869.7L1332.9 869.8L1334.9 870.0L1336.9 870.2L1338.9 870.4L1340.9 870.6L1342.9 870.7L1344.9 870.9L1346.9 871.1L1348.9 871.2L1350.9 871.4L1352.9 871.5L1354.9 871.7L1356.9 871.8L1358.9 872.0L1360.9 872.1L1362.9 872.3L1364.9 872.4L1366.9 872.6L1368.9 872.7L1370.9 872.8L1372.9 873.0L1374.9 873.1L1376.9 873.2L1378.9 873.3L1380.9 873.4L1382.9 873.6L1384.9 873.7L1386.9 873.8L1388.9 873.9L1390.9 874.0L1392.9 874.1L1394.9 874.2L1396.9 874.3L1398.9 874.4L1400.9 874.5L1402.9 874.6L1404.9 874.7L1406.9 874.8L1408.9 874.8L1410.9 874.9L1412.9 875.0L1414.9 875.1L1416.9 875.2L1418.9 875.2L1420.9 875.3L1422.9 875.4L1424.9 875.4L1426.9 875.5L1428.9 875.6L1430.9 875.6L1432.9 875.7L1434.9 875.8L1436.9 875.8L1438.9 875.9L1440.9 875.9L1442.9 876.0L1444.9 876.0L1446.9 876.1L1448.9 876.1L1450.9 876.2L1452.9 876.2L1454.9 876.3L1456.9 876.3L1458.9 876.3L1460.9 876.4L1462.9 876.4L1464.9 876.4L1466.9 876.5L1468.9 876.5L1470.9 876.5L1472.9 876.6L1474.9 876.6L1476.9 876.6L1478.9 876.6L1480.9 876.7L1482.9 876.7L1484.9 876.7L1486.9 876.7L1488.9 876.8L1490.9 876.8L1492.9 876.8L1494.9 876.8L1496.9 876.8L1498.9 876.8L1500.9 876.9L1502.9 876.9L1504.9 876.9L1506.9 876.9L1508.9 876.9L1510.9 876.9L1512.9 876.9L1514.9 876.9L1516.9 876.9L1518.9 876.9L1520.9 876.9L1522.9 877.0L1524.9 877.0L1526.9 877.0L1528.9 877.0L1530.9 877.0L1532.9 877.0L1534.9 877.0L1536.9 877.0L1538.9 877.0L1540.9 877.0L1542.9 877.0L1544.9 877.0L1546.9 877.0L1548.9 877.0L1550.9 877.0L1552.9 877.0L1554.9 877.0L1556.9 877.0L1558.9 877.0L1560.9 877.0L1562.9 877.0L1564.9 877.0L1566.9 877.0L1568.9 877.0L1570.9 877.0L1572.9 877.0L1574.9 877.0L1576.9 877.0L1578.9 877.0L1580.9 877.0L1582.9 877.0L1584.9 877.0L1586.9 877.0L1588.9 877.0L1590.9 877.0L1592.9 877.0L1594.9 877.0L1596.9 877.0L1598.9 877.0L1600.9 877.0L1602.9 877.0L1604.9 877.0L1606.9 877.0L1608.9 877.0L1610.9 877.0L1612.9 877.0L1614.9 877.0L1616.9 877.0L1618.9 877.0L1620.9 877.0L1622.9 877.0L1624.9 877.0L1626.9 877.1L1628.9 877.1L1630.9 877.1L1632.9 877.1L1634.9 877.1L1636.9 877.1L1638.9 877.1L1640.9 877.2L1642.9 877.2L1644.9 877.2L1646.9 877.2L1648.9 877.2L1650.9 877.3L1652.9 877.3L1654.9 877.3L1656.9 877.3L1658.0 877.4"/>
</g>
<g fill="none" stroke-width="5" stroke-linecap="round" stroke-linejoin="round">
<path stroke="#e8101c" d="M1310.9 391.7L1312.4 389.9L1313.9 388.1L1315.4 386.2L1316.9 384.3L1318.4 382.3L1319.9 380.4L1321.4 378.4L1322.9 376.3L1324.4 374.3L1325.9 372.2L1327.4 370.1L1328.9 367.9L1330.4 365.7L1331.9 363.5L1333.4 361.3L1334.9 359.1L1336.4 356.8L1337.9 354.5L1339.4 352.1L1340.9 349.8L1342.4 347.4L1343.9 345.0L1345.4 342.5L1346.9 340.1L1348.4 337.6L1349.9 335.1L1351.4 332.5L1352.9 330.0L1354.4 327.4L1355.9 324.8L1357.4 322.1L1358.9 319.5L1360.4 316.8L1361.9 314.1L1363.4 311.4L1364.9 308.7L1366.4 305.9L1367.9 303.1L1369.4 300.3L1370.9 297.5L1372.4 294.7L1373.9 291.8L1375.4 288.9L1376.9 286.0L1378.4 283.1L1379.9 280.1L1381.4 277.2L1382.9 274.2L1384.4 271.2L1385.9 268.1L1387.4 265.1L1388.9 262.0L1390.4 258.9L1391.9 255.8L1393.4 252.6L1394.9 249.5L1396.4 246.3L1397.9 243.1L1399.4 239.8L1400.9 236.6L1402.4 233.3L1403.9 230.0L1405.4 226.7L1406.9 223.4L1408.4 220.0L1409.9 216.7L1411.4 213.3L1412.9 209.9L1414.4 206.4L1415.9 203.0L1417.4 199.5L1418.9 196.1L1420.4 192.6L1421.9 189.2L1423.4 185.7L1424.9 182.3L1426.4 179.0L1427.9 175.6L1429.4 172.3L1430.9 169.1L1432.4 165.9L1433.9 162.8L1435.4 159.7L1436.9 156.7L1438.4 153.8L1439.9 151.0L1441.4 148.2L1442.9 145.6L1444.4 143.1L1445.9 140.6L1447.4 138.3L1448.9 136.1L1450.4 134.1L1451.9 132.1L1453.4 130.3L1454.9 128.7L1456.4 127.2L1457.9 125.8L1459.4 124.7L1460.9 123.6L1462.4 122.7L1463.9 122.0L1465.4 121.4L1466.9 121.0L1468.4 120.7L1469.9 120.6L1471.4 120.6L1472.9 120.7L1474.4 121.0L1475.9 121.4L1477.4 121.9L1478.9 122.6L1480.4 123.4L1481.9 124.3L1483.4 125.3L1484.9 126.5L1486.4 127.8L1487.9 129.2L1489.4 130.8L1490.9 132.4L1492.4 134.2L1493.9 136.1L1495.4 138.1L1496.9 140.1L1498.4 142.3L1499.9 144.6L1501.4 147.0L1502.9 149.5L1504.4 152.0L1505.9 154.7L1507.4 157.4L1508.9 160.1L1510.4 163.0L1511.9 165.9L1513.4 168.8L1514.9 171.8L1516.4 174.8L1517.9 177.9L1519.4 181.0L1520.9 184.1L1522.4 187.3L1523.9 190.5L1525.4 193.6L1526.9 196.8L1528.4 200.1L1529.9 203.3L1531.4 206.5L1532.9 209.6L1534.4 212.8L1535.9 216.0L1537.4 219.1L1538.9 222.2L1540.4 225.3L1541.9 228.3L1543.4 231.4L1544.9 234.3L1546.4 237.3L1547.9 240.3L1549.4 243.2L1550.9 246.1L1552.4 248.9L1553.9 251.8L1555.4 254.6L1556.9 257.3L1558.4 260.1L1559.9 262.8L1561.4 265.5L1562.9 268.2L1564.4 270.8L1565.9 273.4L1567.4 276.0L1568.9 278.5L1570.4 281.0L1571.9 283.5L1573.4 286.0L1574.9 288.4L1576.4 290.8L1577.9 293.2L1579.4 295.5L1580.9 297.8L1582.4 300.0L1583.9 302.3L1585.4 304.5L1586.9 306.7L1588.4 308.8L1589.9 310.9L1591.4 313.0L1592.9 315.1L1594.4 317.1L1595.9 319.1L1597.4 321.1L1598.9 323.0L1600.4 324.9L1601.9 326.8L1603.4 328.7L1604.9 330.5L1606.4 332.3L1607.9 334.1L1609.4 335.8L1610.9 337.6L1612.4 339.3L1613.9 340.9L1615.4 342.6L1616.9 344.2L1618.4 345.8L1619.9 347.4L1621.4 348.9L1622.9 350.4L1624.4 351.9L1625.9 353.4L1627.4 354.8L1628.9 356.2L1630.4 357.6L1631.9 359.0L1633.4 360.3L1634.9 361.7L1636.4 363.0L1637.9 364.2L1639.4 365.5L1640.9 366.7L1642.4 367.9L1643.9 369.1L1645.4 370.3L1646.9 371.4L1648.4 372.6L1649.9 373.7L1651.4 374.7L1652.9 375.8L1654.4 376.8L1655.9 377.9L1657.4 378.9L1658.9 379.8L1660.4 380.8L1661.9 381.7L1663.4 382.6L1664.9 383.5L1666.4 384.4L1667.9 385.3L1669.4 386.1L1670.9 387.0L1672.4 387.8L1673.9 388.6L1675.4 389.3L1676.9 390.1L1678.4 390.8L1679.9 391.6L1681.4 392.3L1682.9 392.9L1684.4 393.6L1685.9 394.3L1687.4 394.9L1688.9 395.5L1690.4 396.1L1691.9 396.7L1693.4 397.3L1694.9 397.9L1696.4 398.4L1697.9 399.0L1699.4 399.5L1700.9 400.0L1702.4 400.5L1703.9 401.0L1705.4 401.4L1706.9 401.9L1708.4 402.3L1709.9 402.7L1711.4 403.2L1712.9 403.6L1714.4 403.9L1714.5 404.0"/>
<path stroke="#5e2d98" d="M1289.9 401.9L1291.4 401.5L1292.9 400.8L1294.4 399.9L1295.9 398.7L1297.4 397.3L1298.9 395.7L1300.4 393.9L1301.9 391.9L1303.4 389.6L1304.9 387.2L1306.4 384.6L1307.9 381.8L1309.4 378.9L1310.9 375.7L1312.4 372.4L1313.9 369.0L1315.4 365.4L1316.9 361.7L1318.4 357.8L1319.9 353.8L1321.4 349.7L1322.9 345.5L1324.4 341.1L1325.9 336.7L1327.4 332.2L1328.9 327.6L1330.4 322.9L1331.9 318.1L1333.4 313.3L1334.9 308.4L1336.4 303.5L1337.9 298.5L1339.4 293.5L1340.9 288.4L1342.4 283.4L1343.9 278.3L1345.4 273.2L1346.9 268.1L1348.4 263.0L1349.9 257.9L1351.4 252.9L1352.9 247.8L1354.4 242.8L1355.9 237.9L1357.4 233.0L1358.9 228.2L1360.4 223.4L1361.9 218.7L1363.4 214.1L1364.9 209.6L1366.4 205.2L1367.9 200.9L1369.4 196.7L1370.9 192.6L1372.4 188.7L1373.9 184.9L1375.4 181.2L1376.9 177.7L1378.4 174.4L1379.9 171.3L1381.4 168.3L1382.9 165.5L1384.4 162.8L1385.9 160.4L1387.4 158.1L1388.9 156.0L1390.4 154.0L1391.9 152.1L1393.4 150.4L1394.9 148.7L1396.4 147.2L1397.9 145.8L1399.4 144.5L1400.9 143.3L1402.4 142.1L1403.9 141.0L1405.4 140.0L1406.9 139.0L1408.4 138.0L1409.9 137.1L1411.4 136.2L1412.9 135.3L1414.4 134.4L1415.9 133.6L1417.4 132.7L1418.9 131.8L1420.4 130.8L1421.9 129.9L1423.4 129.0L1424.9 128.1L1426.4 127.3L1427.9 126.4L1429.4 125.7L1430.9 124.9L1432.4 124.2L1433.9 123.6L1435.4 123.1L1436.9 122.6L1438.4 122.2L1439.9 122.0L1441.4 121.8L1442.9 121.7L1444.4 121.8L1445.9 122.0L1447.4 122.3L1448.9 122.7L1450.4 123.3L1451.9 124.0L1453.4 124.8L1454.9 125.8L1456.4 126.8L1457.9 128.0L1459.4 129.2L1460.9 130.5L1462.4 132.0L1463.9 133.5L1465.4 135.1L1466.9 136.9L1468.4 138.6L1469.9 140.5L1471.4 142.4L1472.9 144.4L1474.4 146.5L1475.9 148.6L1477.4 150.8L1478.9 153.1L1480.4 155.4L1481.9 157.7L1483.4 160.1L1484.9 162.5L1486.4 165.0L1487.9 167.5L1489.4 170.0L1490.9 172.6L1492.4 175.2L1493.9 177.9L1495.4 180.5L1496.9 183.2L1498.4 185.9L1499.9 188.7L1501.4 191.4L1502.9 194.2L1504.4 197.0L1505.9 199.8L1507.4 202.6L1508.9 205.5L1510.4 208.3L1511.9 211.1L1513.4 214.0L1514.9 216.8L1516.4 219.7L1517.9 222.5L1519.4 225.4L1520.9 228.2L1522.4 231.0L1523.9 233.9L1525.4 236.7L1526.9 239.4L1528.4 242.2L1529.9 245.0L1531.4 247.7L1532.9 250.4L1534.4 253.1L1535.9 255.8L1537.4 258.4L1538.9 261.0L1540.4 263.6L1541.9 266.1L1543.4 268.6L1544.9 271.1L1546.4 273.5L1547.9 276.0L1549.4 278.4L1550.9 280.7L1552.4 283.1L1553.9 285.4L1555.4 287.7L1556.9 289.9L1558.4 292.1L1559.9 294.3L1561.4 296.5L1562.9 298.6L1564.4 300.7L1565.9 302.8L1567.4 304.9L1568.9 306.9L1570.4 308.9L1571.9 310.9L1573.4 312.8L1574.9 314.8L1576.4 316.7L1577.9 318.5L1579.4 320.4L1580.9 322.2L1582.4 324.0L1583.9 325.7L1585.4 327.5L1586.9 329.2L1588.4 330.9L1589.9 332.5L1591.4 334.1L1592.9 335.8L1594.4 337.3L1595.9 338.9L1597.4 340.4L1598.9 341.9L1600.4 343.4L1601.9 344.9L1603.4 346.3L1604.9 347.7L1606.4 349.1L1607.9 350.5L1609.4 351.9L1610.9 353.2L1612.4 354.5L1613.9 355.8L1615.4 357.0L1616.9 358.3L1618.4 359.5L1619.9 360.7L1621.4 361.9L1622.9 363.0L1624.4 364.2L1625.9 365.3L1627.4 366.4L1628.9 367.5L1630.4 368.6L1631.9 369.6L1633.4 370.6L1634.9 371.6L1636.4 372.6L1637.9 373.6L1639.4 374.6L1640.9 375.5L1642.4 376.4L1643.9 377.4L1645.4 378.3L1646.9 379.1L1648.4 380.0L1649.9 380.8L1651.4 381.7L1652.9 382.5L1654.4 383.3L1655.9 384.1L1657.4 384.9L1658.9 385.6L1660.4 386.4L1661.9 387.1L1663.4 387.8L1664.9 388.6L1666.4 389.2L1667.9 389.9L1669.4 390.6L1670.9 391.3L1672.4 391.9L1673.9 392.6L1675.4 393.2L1676.9 393.8L1678.4 394.4L1679.9 395.0L1681.4 395.6L1682.9 396.2L1684.4 396.8L1685.9 397.3L1687.4 397.9L1688.9 398.4L1690.4 399.0L1691.9 399.5L1693.4 400.0L1694.9 400.5L1696.4 401.0L1697.9 401.5L1699.4 402.0L1700.9 402.5L1702.4 403.0L1703.9 403.5L1705.4 403.9L1706.9 404.4L1708.4 404.8L1709.9 405.3L1711.4 405.7L1712.9 406.2L1714.4 406.6L1714.5 406.7"/>
<path stroke="#1eb2f0" d="M1288.8 390.9L1290.3 390.7L1291.8 390.2L1293.3 389.4L1294.8 388.4L1296.3 387.2L1297.8 385.8L1299.3 384.1L1300.8 382.3L1302.3 380.2L1303.8 377.9L1305.3 375.5L1306.8 372.9L1308.3 370.0L1309.8 367.0L1311.3 363.9L1312.8 360.6L1314.3 357.1L1315.8 353.5L1317.3 349.7L1318.8 345.9L1320.3 341.8L1321.8 337.7L1323.3 333.5L1324.8 329.1L1326.3 324.6L1327.8 320.1L1329.3 315.4L1330.8 310.7L1332.3 305.9L1333.8 301.0L1335.3 296.0L1336.8 291.0L1338.3 286.0L1339.8 280.9L1341.3 275.7L1342.8 270.6L1344.3 265.4L1345.8 260.1L1347.3 254.9L1348.8 249.7L1350.3 244.5L1351.8 239.3L1353.3 234.1L1354.8 229.0L1356.3 223.9L1357.8 218.9L1359.3 213.9L1360.8 209.0L1362.3 204.2L1363.8 199.5L1365.3 194.9L1366.8 190.4L1368.3 186.0L1369.8 181.7L1371.3 177.5L1372.8 173.5L1374.3 169.7L1375.8 166.0L1377.3 162.5L1378.8 159.2L1380.3 156.0L1381.8 153.1L1383.3 150.3L1384.8 147.7L1386.3 145.4L1387.8 143.2L1389.3 141.1L1390.8 139.2L1392.3 137.5L1393.8 135.9L1395.3 134.5L1396.8 133.2L1398.3 131.9L1399.8 130.8L1401.3 129.8L1402.8 128.9L1404.3 128.1L1405.8 127.3L1407.3 126.6L1408.8 126.0L1410.3 125.4L1411.8 124.8L1413.3 124.3L1414.8 123.7L1416.3 123.2L1417.8 122.7L1419.3 122.3L1420.8 121.8L1422.3 121.3L1423.8 120.9L1425.3 120.5L1426.8 120.2L1428.3 119.9L1429.8 119.7L1431.3 119.6L1432.8 119.6L1434.3 119.7L1435.8 119.8L1437.3 120.1L1438.8 120.5L1440.3 121.0L1441.8 121.7L1443.3 122.5L1444.8 123.4L1446.3 124.6L1447.8 125.9L1449.3 127.4L1450.8 129.0L1452.3 130.8L1453.8 132.8L1455.3 134.9L1456.8 137.2L1458.3 139.6L1459.8 142.1L1461.3 144.7L1462.8 147.5L1464.3 150.3L1465.8 153.2L1467.3 156.2L1468.8 159.3L1470.3 162.5L1471.8 165.7L1473.3 168.9L1474.8 172.2L1476.3 175.6L1477.8 178.9L1479.3 182.3L1480.8 185.7L1482.3 189.1L1483.8 192.4L1485.3 195.8L1486.8 199.1L1488.3 202.4L1489.8 205.7L1491.3 208.9L1492.8 212.1L1494.3 215.2L1495.8 218.4L1497.3 221.4L1498.8 224.5L1500.3 227.5L1501.8 230.5L1503.3 233.4L1504.8 236.3L1506.3 239.2L1507.8 242.1L1509.3 244.9L1510.8 247.7L1512.3 250.4L1513.8 253.1L1515.3 255.8L1516.8 258.4L1518.3 261.0L1519.8 263.6L1521.3 266.2L1522.8 268.7L1524.3 271.2L1525.8 273.6L1527.3 276.1L1528.8 278.5L1530.3 280.8L1531.8 283.2L1533.3 285.5L1534.8 287.8L1536.3 290.0L1537.8 292.2L1539.3 294.4L1540.8 296.6L1542.3 298.7L1543.8 300.8L1545.3 302.9L1546.8 304.9L1548.3 306.9L1549.8 308.9L1551.3 310.9L1552.8 312.8L1554.3 314.7L1555.8 316.6L1557.3 318.4L1558.8 320.3L1560.3 322.1L1561.8 323.9L1563.3 325.6L1564.8 327.3L1566.3 329.0L1567.8 330.7L1569.3 332.3L1570.8 334.0L1572.3 335.6L1573.8 337.1L1575.3 338.7L1576.8 340.2L1578.3 341.7L1579.8 343.2L1581.3 344.7L1582.8 346.1L1584.3 347.5L1585.8 348.9L1587.3 350.3L1588.8 351.6L1590.3 352.9L1591.8 354.2L1593.3 355.5L1594.8 356.8L1596.3 358.0L1597.8 359.2L1599.3 360.4L1600.8 361.6L1602.3 362.7L1603.8 363.9L1605.3 365.0L1606.8 366.1L1608.3 367.1L1609.8 368.2L1611.3 369.2L1612.8 370.3L1614.3 371.3L1615.8 372.2L1617.3 373.2L1618.8 374.1L1620.3 375.1L1621.8 376.0L1623.3 376.9L1624.8 377.7L1626.3 378.6L1627.8 379.4L1629.3 380.3L1630.8 381.1L1632.3 381.9L1633.8 382.6L1635.3 383.4L1636.8 384.2L1638.3 384.9L1639.8 385.6L1641.3 386.3L1642.8 387.0L1644.3 387.7L1645.8 388.3L1647.3 389.0L1648.8 389.6L1650.3 390.2L1651.8 390.8L1653.3 391.4L1654.8 392.0L1656.3 392.5L1657.8 393.1L1659.3 393.6L1660.8 394.2L1662.3 394.7L1663.8 395.2L1665.3 395.7L1666.8 396.2L1668.3 396.6L1669.8 397.1L1671.3 397.5L1672.8 398.0L1674.3 398.4L1675.8 398.8L1677.3 399.2L1678.8 399.6L1680.3 400.0L1681.8 400.4L1683.3 400.8L1684.8 401.2L1686.3 401.5L1687.8 401.9L1689.3 402.2L1690.8 402.5L1692.3 402.9L1693.8 403.2L1695.3 403.5L1696.8 403.8L1698.3 404.1L1699.8 404.4L1701.3 404.7L1702.8 404.9L1704.3 405.2L1705.8 405.5L1707.3 405.7L1708.8 406.0L1710.3 406.3L1711.8 406.5L1713.3 406.7L1714.5 406.9"/>
</g>
<g stroke-linecap="round">
<path stroke="#e8101c" stroke-width="6.5" d="M299 123.2H385"/>
<path stroke="#f4c000" stroke-width="5" d="M293.5 177.5H391.5"/>
<path stroke="#5e2d98" stroke-width="5.5" d="M299 232H385"/>
<path stroke="#1eb2f0" stroke-width="5.5" d="M299 286.6H385"/>
</g>
<text x="179.5" y="894.6" font-size="34" textLength="19.5" lengthAdjust="spacingAndGlyphs">0</text>
<text x="159.5" y="812.4" font-size="34" textLength="39.5" lengthAdjust="spacingAndGlyphs">50</text>
<text x="139.5" y="730.1" font-size="34" textLength="59.5" lengthAdjust="spacingAndGlyphs">100</text>
<text x="139.5" y="647.9" font-size="34" textLength="59.5" lengthAdjust="spacingAndGlyphs">150</text>
<text x="139.5" y="565.7" font-size="34" textLength="59.5" lengthAdjust="spacingAndGlyphs">200</text>
<text x="139.5" y="483.5" font-size="34" textLength="59.5" lengthAdjust="spacingAndGlyphs">250</text>
<text x="139.5" y="401.2" font-size="34" textLength="59.5" lengthAdjust="spacingAndGlyphs">300</text>
<text x="139.5" y="319.0" font-size="34" textLength="59.5" lengthAdjust="spacingAndGlyphs">350</text>
<text x="139.5" y="236.8" font-size="34" textLength="59.5" lengthAdjust="spacingAndGlyphs">400</text>
<text x="139.5" y="154.6" font-size="34" textLength="59.5" lengthAdjust="spacingAndGlyphs">450</text>
<text x="139.5" y="72.3" font-size="34" textLength="59.5" lengthAdjust="spacingAndGlyphs">500</text>
<text x="203.1" y="933.8" font-size="33" textLength="57.5" lengthAdjust="spacingAndGlyphs">350</text>
<text x="414.6" y="933.8" font-size="33" textLength="57.5" lengthAdjust="spacingAndGlyphs">400</text>
<text x="626.1" y="933.8" font-size="33" textLength="57.5" lengthAdjust="spacingAndGlyphs">450</text>
<text x="837.6" y="933.8" font-size="33" textLength="57.5" lengthAdjust="spacingAndGlyphs">500</text>
<text x="1049.1" y="933.8" font-size="33" textLength="57.5" lengthAdjust="spacingAndGlyphs">550</text>
<text x="1260.6" y="933.8" font-size="33" textLength="57.5" lengthAdjust="spacingAndGlyphs">600</text>
<text x="1472.1" y="933.8" font-size="33" textLength="57.5" lengthAdjust="spacingAndGlyphs">650</text>
<text x="1683.6" y="933.8" font-size="33" textLength="57.5" lengthAdjust="spacingAndGlyphs">700</text>
<text x="822.0" y="987.5" font-size="38" textLength="300.0" lengthAdjust="spacingAndGlyphs">Wavelength (nm)</text>
<text transform="translate(117.5 608) rotate(-90)" font-size="39" textLength="276" lengthAdjust="spacingAndGlyphs">PL intensity (a. u.)</text>
<text x="55.0" y="76.0" font-size="42" textLength="55.0" lengthAdjust="spacingAndGlyphs">(a)</text>
<text x="394.0" y="135.3" font-size="44" textLength="121.0" lengthAdjust="spacingAndGlyphs" stroke="#111" stroke-width="0.5">N–CDs</text>
<text x="396.0" y="187.5" font-size="34" textLength="111.0" lengthAdjust="spacingAndGlyphs">10-fold</text>
<text x="394.0" y="242.2" font-size="34" textLength="113.0" lengthAdjust="spacingAndGlyphs">50-fold</text>
<text x="396.0" y="296.8" font-size="34" textLength="130.0" lengthAdjust="spacingAndGlyphs">100-fold</text>
<text x="1195.0" y="430.8" font-size="33" textLength="16.0" lengthAdjust="spacingAndGlyphs">0</text>
<text x="1166.0" y="370.9" font-size="33" textLength="45.0" lengthAdjust="spacingAndGlyphs">0.2</text>
<text x="1166.0" y="311.0" font-size="33" textLength="45.0" lengthAdjust="spacingAndGlyphs">0.4</text>
<text x="1166.0" y="251.2" font-size="33" textLength="45.0" lengthAdjust="spacingAndGlyphs">0.6</text>
<text x="1166.0" y="191.3" font-size="33" textLength="45.0" lengthAdjust="spacingAndGlyphs">0.8</text>
<text x="1195.0" y="131.4" font-size="33" textLength="16.0" lengthAdjust="spacingAndGlyphs">1</text>
<text x="1166.0" y="71.5" font-size="33" textLength="45.0" lengthAdjust="spacingAndGlyphs">1.2</text>
<text x="1218.2" y="470.2" font-size="33" textLength="55.0" lengthAdjust="spacingAndGlyphs">350</text>
<text x="1311.5" y="470.2" font-size="33" textLength="55.0" lengthAdjust="spacingAndGlyphs">400</text>
<text x="1404.9" y="470.2" font-size="33" textLength="55.0" lengthAdjust="spacingAndGlyphs">450</text>
<text x="1498.2" y="470.2" font-size="33" textLength="55.0" lengthAdjust="spacingAndGlyphs">500</text>
<text x="1591.6" y="470.2" font-size="33" textLength="55.0" lengthAdjust="spacingAndGlyphs">550</text>
<text x="1685.0" y="470.2" font-size="33" textLength="55.0" lengthAdjust="spacingAndGlyphs">600</text>
<text x="1330.0" y="522.2" font-size="38" textLength="301.0" lengthAdjust="spacingAndGlyphs">Wavelength (nm)</text>
<text transform="translate(1141 456.5) rotate(-90)" font-size="39" textLength="382" lengthAdjust="spacingAndGlyphs">PL intensity (normalized)</text>
<text x="1271.5" y="97.5" font-size="34" textLength="131.0" lengthAdjust="spacingAndGlyphs">100-fold</text>
<text x="1487.0" y="105.8" font-size="43" textLength="121.0" lengthAdjust="spacingAndGlyphs" stroke="#111" stroke-width="0.5">N–CDs</text>
<path d="M1416 89.8L1441 79.8V100Z" fill="#000"/>
<path d="M1438 89.8H1484" stroke="#000" stroke-width="3"/>
<defs>
<filter id="b1" x="-20%" y="-20%" width="140%" height="140%"><feGaussianBlur stdDeviation="1.5"/></filter>
<filter id="b3" x="-20%" y="-20%" width="140%" height="140%"><feGaussianBlur stdDeviation="3"/></filter>
<filter id="b6" x="-30%" y="-30%" width="160%" height="160%"><feGaussianBlur stdDeviation="6"/></filter>
<filter id="b10" x="-40%" y="-40%" width="180%" height="180%"><feGaussianBlur stdDeviation="10"/></filter>
<clipPath id="cday"><rect x="16" y="1078" width="1777" height="161"/></clipPath>
<clipPath id="cuv"><rect x="16" y="1239" width="1777" height="186"/></clipPath>
<clipPath id="cv2"><path d="M483 1078 L796 1078 L836 1232 L518 1232Z"/></clipPath>
<clipPath id="cv3"><path d="M985 1078 L1308 1078 L1303 1236 L990 1236Z"/></clipPath>
<clipPath id="cv4"><path d="M1478 1078 L1793 1078 L1793 1239 L1462 1239Z"/></clipPath>
<clipPath id="cp1"><rect x="16" y="1078" width="401" height="161"/></clipPath>
<linearGradient id="gp1" x1="0" y1="0" x2="0" y2="1">
 <stop offset="0" stop-color="#c0b8ac"/><stop offset="0.35" stop-color="#c8c0b2"/>
 <stop offset="0.7" stop-color="#d0c8b9"/><stop offset="1" stop-color="#cec6b9"/></linearGradient>
<linearGradient id="gp1r" x1="0" y1="0" x2="0" y2="1">
 <stop offset="0" stop-color="#5e5a60"/><stop offset="0.45" stop-color="#6e6a6e"/><stop offset="1" stop-color="#8c8688"/></linearGradient>
<linearGradient id="gv2" x1="0" y1="0" x2="0" y2="1">
 <stop offset="0" stop-color="#d8d4c2"/><stop offset="0.14" stop-color="#ccc8b2"/><stop offset="0.26" stop-color="#d6d2be"/>
 <stop offset="0.36" stop-color="#c6c2ae"/><stop offset="0.45" stop-color="#d4d0be"/><stop offset="0.65" stop-color="#dedacb"/>
 <stop offset="0.8" stop-color="#eae6d8"/><stop offset="0.88" stop-color="#f6f4ea"/><stop offset="0.96" stop-color="#efece2"/><stop offset="1" stop-color="#d6d0c6"/></linearGradient>
<linearGradient id="gv3" x1="0" y1="0" x2="0" y2="1">
 <stop offset="0" stop-color="#d8d2aa"/><stop offset="0.14" stop-color="#c8c096"/><stop offset="0.26" stop-color="#d4cca2"/>
 <stop offset="0.36" stop-color="#c4bc92"/><stop offset="0.45" stop-color="#d2caa2"/><stop offset="0.65" stop-color="#dcd6ac"/>
 <stop offset="0.8" stop-color="#e8e2b8"/><stop offset="0.88" stop-color="#f4eec8"/><stop offset="0.96" stop-color="#ece4c4"/><stop offset="1" stop-color="#d6ccb8"/></linearGradient>
<linearGradient id="gv4" x1="0" y1="0" x2="0" y2="1">
 <stop offset="0" stop-color="#b09232"/><stop offset="0.05" stop-color="#a07a2a"/><stop offset="0.1" stop-color="#8e5e2e"/>
 <stop offset="0.2" stop-color="#886228"/><stop offset="0.3" stop-color="#8e6a24"/><stop offset="0.5" stop-color="#a07620"/>
 <stop offset="0.68" stop-color="#b08820"/><stop offset="0.82" stop-color="#c29a1a"/><stop offset="0.92" stop-color="#caa01a"/>
 <stop offset="1" stop-color="#967a3c"/></linearGradient>
<linearGradient id="guv" x1="0" y1="0" x2="0" y2="1"><stop offset="0" stop-color="#0028c6"/><stop offset="0.45" stop-color="#0020b0"/><stop offset="0.75" stop-color="#00168e"/><stop offset="1" stop-color="#000c66"/></linearGradient>
<linearGradient id="guv3" x1="0" y1="0" x2="0" y2="1"><stop offset="0" stop-color="#0630b4"/><stop offset="0.5" stop-color="#082ca2"/><stop offset="0.85" stop-color="#0a2888"/><stop offset="1" stop-color="#082070"/></linearGradient>
<linearGradient id="guv4" x1="0" y1="0" x2="0" y2="1"><stop offset="0" stop-color="#0836b0"/><stop offset="0.5" stop-color="#0830a0"/><stop offset="0.85" stop-color="#082684"/><stop offset="1" stop-color="#061a58"/></linearGradient>
<linearGradient id="gb1" x1="0" y1="0" x2="0" y2="1"><stop offset="0" stop-color="#0a66fc"/><stop offset="0.4" stop-color="#0a56e2"/><stop offset="1" stop-color="#0a4cdc"/></linearGradient>
<linearGradient id="gb2" x1="0" y1="0" x2="0" y2="1">
 <stop offset="0" stop-color="#28a2f8"/><stop offset="0.5" stop-color="#2092f2"/><stop offset="1" stop-color="#1c88ea"/></linearGradient>
<linearGradient id="gb3" x1="0" y1="0" x2="0" y2="1">
 <stop offset="0" stop-color="#58f8fe"/><stop offset="0.6" stop-color="#52f0fa"/><stop offset="1" stop-color="#4ae4f6"/></linearGradient>
<linearGradient id="gb4" x1="0" y1="0" x2="0" y2="1">
 <stop offset="0" stop-color="#4ce2f4"/><stop offset="0.5" stop-color="#42d6f0"/><stop offset="1" stop-color="#3cccec"/></linearGradient>
<linearGradient id="gg4" x1="0" y1="0" x2="0" y2="1">
 <stop offset="0" stop-color="#1660e6"/><stop offset="1" stop-color="#1e7ae8"/></linearGradient>
</defs>
<g clip-path="url(#cday)">
 <rect x="16" y="1078" width="1777" height="161" fill="#c6bec2"/>
 <!-- panel 1 -->
 <g clip-path="url(#cp1)">
 <rect x="16" y="1078" width="401" height="161" fill="url(#gp1)"/>
 <g filter="url(#b6)">
  <path d="M16 1082 C120 1080 240 1084 340 1092 L340 1100 C240 1096 120 1094 16 1094Z" fill="#ddd5c6"/>
  <path d="M16 1100 C100 1100 200 1106 330 1118 L330 1126 C200 1120 100 1114 16 1114Z" fill="#aea698"/>
  <path d="M120 1118 C200 1122 280 1128 350 1134 L350 1142 C280 1138 200 1134 120 1130Z" fill="#e4ddd0"/>
  <path d="M16 1128 C60 1132 100 1140 130 1150 L130 1160 C100 1156 60 1150 16 1146Z" fill="#b6ae9f"/>
  <path d="M290 1140 C330 1150 370 1175 395 1205 L380 1212 C350 1185 320 1165 290 1155Z" fill="#a29a92"/>
  <path d="M16 1168 C80 1172 160 1180 230 1190 L230 1200 C160 1196 80 1192 16 1190Z" fill="#f2ecde"/>
  <path d="M160 1150 C220 1155 280 1162 330 1172 L330 1182 C280 1176 220 1170 160 1166Z" fill="#d8d0c2"/>
  <path d="M16 1206 C60 1207 100 1210 140 1214 L140 1222 C100 1220 60 1220 16 1220Z" fill="#9a928e"/>
  <path d="M130 1224 C220 1226 320 1228 400 1228 L400 1236 C320 1236 220 1236 130 1234Z" fill="#f0eade"/>
 </g>
 <rect x="368" y="1078" width="34" height="161" fill="#b0a8a6" filter="url(#b3)" opacity="0.8"/>
 <rect x="402" y="1078" width="15" height="161" fill="url(#gp1r)"/>
 </g>
 <!-- panel 2 -->
 <rect x="417" y="1078" width="2.5" height="161" fill="#8a8488"/>
 <path d="M483 1078 L796 1078 L836 1232 L518 1232Z" fill="url(#gv2)" filter="url(#b1)"/>
 <g clip-path="url(#cv2)"><g filter="url(#b6)">
  <path d="M490 1135 L535 1135 L555 1205 L515 1210Z" fill="#bdb8a8"/>
  <ellipse cx="690" cy="1218" rx="170" ry="9" fill="#faf8f0"/>
  <ellipse cx="620" cy="1188" rx="60" ry="18" fill="#eeeadc"/>
 </g>
  <path d="M492 1118 C560 1130 720 1132 800 1116" stroke="#ebe8da" stroke-width="4" fill="none" filter="url(#b1)"/>
  <path d="M492 1100 C560 1090 720 1088 796 1100" stroke="#a8a48e" stroke-width="3" fill="none" filter="url(#b1)" opacity="0.7"/>
  <g fill="#fbfaf4" filter="url(#b1)"><circle cx="522" cy="1096" r="4"/><circle cx="566" cy="1092" r="3"/><circle cx="648" cy="1094" r="4"/><circle cx="735" cy="1090" r="3"/><circle cx="780" cy="1096" r="3"/><circle cx="510" cy="1160" r="2.5"/><circle cx="517" cy="1183" r="2.5"/></g>
 </g>
 <path d="M800 1078 L848 1078 L838 1239 L824 1239Z" fill="#6f6969" filter="url(#b3)"/>
 <!-- panel 3 -->
 <path d="M964 1078 L986 1078 L990 1239 L968 1239Z" fill="#aaa49c" filter="url(#b3)"/>
 <path d="M985 1078 L1308 1078 L1303 1236 L990 1236Z" fill="url(#gv3)" filter="url(#b1)"/>
 <g clip-path="url(#cv3)"><g filter="url(#b6)">
  <path d="M988 1130 L1030 1130 L1040 1200 L995 1205Z" fill="#b0a888"/>
  <path d="M990 1215 C1020 1200 1050 1190 1080 1182 L1086 1192 C1056 1200 1026 1212 996 1226Z" fill="#fffad8"/>
  <ellipse cx="1160" cy="1222" rx="150" ry="9" fill="#f8f2d0"/>
  <path d="M1230 1130 L1300 1120 L1300 1210 Z" fill="#c6be98"/>
 </g>
  <path d="M990 1118 C1060 1130 1220 1132 1305 1116" stroke="#ebe6c4" stroke-width="4" fill="none" filter="url(#b1)"/>
  <g fill="#fbf8e4" filter="url(#b1)"><circle cx="1012" cy="1092" r="4"/><circle cx="1060" cy="1090" r="3"/><circle cx="1142" cy="1095" r="5"/><circle cx="1260" cy="1092" r="4"/></g>
 </g>
 <path d="M1303 1078 L1360 1078 L1332 1239 L1302 1239Z" fill="#777070" filter="url(#b3)"/>
 <!-- panel 4 -->
 <path d="M1478 1078 L1793 1078 L1793 1239 L1462 1239Z" fill="url(#gv4)" filter="url(#b1)"/>
 <g clip-path="url(#cv4)"><g filter="url(#b6)">
  <path d="M1462 1204 C1520 1190 1560 1180 1610 1172 L1616 1182 C1560 1192 1520 1204 1462 1216Z" fill="#e6ba12"/>
  <ellipse cx="1690" cy="1218" rx="110" ry="8" fill="#dcb01a"/>
  <path d="M1490 1110 L1520 1100 L1530 1180 L1500 1190Z" fill="#8e6e24"/>
 </g>
  <ellipse cx="1660" cy="1084" rx="14" ry="4" fill="#f0d040" filter="url(#b3)"/>
  <ellipse cx="1780" cy="1090" rx="12" ry="4" fill="#f0d040" filter="url(#b3)"/>
 </g>
</g>
<g clip-path="url(#cuv)">
 <rect x="16" y="1239" width="1777" height="186" fill="url(#guv)"/>
 <rect x="975" y="1239" width="420" height="186" fill="url(#guv3)"/>
 <rect x="1390" y="1239" width="403" height="186" fill="url(#guv4)"/>
 <rect x="16" y="1239" width="22" height="186" fill="#06149a" filter="url(#b1)"/>
 <rect x="1280" y="1239" width="40" height="60" fill="#1a66e0" filter="url(#b6)" opacity="0.7"/>
 <rect x="985" y="1239" width="25" height="40" fill="#1a66e0" filter="url(#b3)" opacity="0.7"/>
 <!-- vial 1 -->
 <path d="M30 1239 L416 1239 C430 1280 442 1320 450 1358 C446 1380 430 1390 400 1398 C330 1408 260 1408 200 1400 C130 1392 80 1375 52 1345 C40 1320 34 1280 30 1239Z" fill="url(#gb1)" filter="url(#b3)"/>
 <path d="M55 1325 C150 1350 300 1365 445 1365" stroke="#2a72f4" stroke-width="4" fill="none" filter="url(#b1)" opacity="0.7"/>
 <!-- vial 2 -->
 <path d="M493 1239 L839 1239 C855 1290 866 1330 876 1360 C880 1385 860 1400 820 1408 C760 1416 700 1414 640 1406 C600 1400 575 1390 556 1370 C530 1330 510 1290 493 1239Z" fill="url(#gb2)" filter="url(#b3)"/>
 <path d="M620 1358 C660 1360 700 1362 740 1362" stroke="#9ad8ff" stroke-width="3" fill="none" filter="url(#b1)"/>
 <!-- vial 3 -->
 <path d="M991 1239 L1281 1239 C1295 1255 1302 1275 1306 1300 C1312 1340 1318 1370 1316 1390 C1305 1410 1280 1418 1240 1421 C1180 1424 1120 1422 1070 1410 C1040 1400 1030 1385 1025 1370 C1015 1330 1000 1290 991 1239Z" fill="url(#gb3)" filter="url(#b3)"/>
 <!-- vial 4 -->
 <path d="M1478 1239 H1790 V1300 H1480Z" fill="url(#gg4)" filter="url(#b3)"/>
 <rect x="1482" y="1239" width="40" height="60" fill="#2a86ee" filter="url(#b6)" opacity="0.8"/>
 <path d="M1485 1293 C1490 1330 1495 1365 1502 1385 C1530 1408 1580 1420 1635 1422 C1700 1421 1760 1410 1783 1390 C1786 1360 1786 1330 1786 1296Z" fill="url(#gb4)" filter="url(#b3)"/>
 <ellipse cx="1636" cy="1295" rx="151" ry="34" fill="#4ee0f4" filter="url(#b3)"/>
 <ellipse cx="1645" cy="1295" rx="120" ry="26" fill="#2a8ad0" filter="url(#b3)"/>
</g>
<text x="54.5" y="1167" font-size="51" textLength="57" lengthAdjust="spacingAndGlyphs">(b)</text>
<text x="141.5" y="1227" font-size="52" textLength="180" lengthAdjust="spacingAndGlyphs">100-fold</text>
<text x="588" y="1227" font-size="52" textLength="154" lengthAdjust="spacingAndGlyphs">50-fold</text>
<text x="1072" y="1227" font-size="52" textLength="152" lengthAdjust="spacingAndGlyphs">10-fold</text>
<text x="1576" y="1228" font-size="56" textLength="159" lengthAdjust="spacingAndGlyphs">N–CDs</text>

</svg></body></html>
